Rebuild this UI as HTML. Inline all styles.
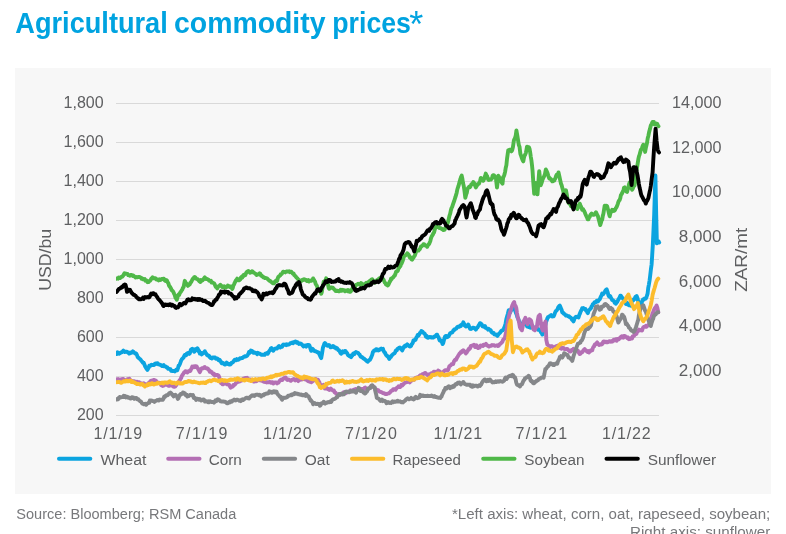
<!DOCTYPE html>
<html lang="en"><head><meta charset="utf-8"><title>Agricultural commodity prices</title>
<style>html,body{margin:0;padding:0;background:#fff;overflow:hidden}body{width:786px;height:534px}</style></head>
<body>
<svg width="786" height="534" viewBox="0 0 786 534" style="display:block">
<rect x="0" y="0" width="786" height="534" fill="#ffffff"/>
<rect x="15" y="68" width="756" height="426" fill="#f7f7f7"/>
<text font-family="'Liberation Sans', sans-serif" font-weight="700" font-size="29.5" fill="#00a3e0" y="33.1"><tspan x="15.3" textLength="152.5" lengthAdjust="spacingAndGlyphs">Agricultural</tspan> <tspan x="174" textLength="151.5" lengthAdjust="spacingAndGlyphs">commodity</tspan> <tspan x="332.3" textLength="78.6" lengthAdjust="spacingAndGlyphs">prices</tspan><tspan x="409.2" y="37.3" font-weight="400" font-size="36">*</tspan></text>
<line x1="116" y1="415.5" x2="659" y2="415.5" stroke="#d9d9d9" stroke-width="1"/>
<line x1="116" y1="376.5" x2="659" y2="376.5" stroke="#d9d9d9" stroke-width="1"/>
<line x1="116" y1="337.5" x2="659" y2="337.5" stroke="#d9d9d9" stroke-width="1"/>
<line x1="116" y1="298.5" x2="659" y2="298.5" stroke="#d9d9d9" stroke-width="1"/>
<line x1="116" y1="259.5" x2="659" y2="259.5" stroke="#d9d9d9" stroke-width="1"/>
<line x1="116" y1="220.5" x2="659" y2="220.5" stroke="#d9d9d9" stroke-width="1"/>
<line x1="116" y1="181.5" x2="659" y2="181.5" stroke="#d9d9d9" stroke-width="1"/>
<line x1="116" y1="142.5" x2="659" y2="142.5" stroke="#d9d9d9" stroke-width="1"/>
<line x1="116" y1="103.5" x2="659" y2="103.5" stroke="#d9d9d9" stroke-width="1"/>
<g font-family="'Liberation Sans', sans-serif" font-size="16" fill="#5e5f61">
<text x="103.6" y="419.9" text-anchor="end">200</text>
<text x="103.6" y="380.9" text-anchor="end">400</text>
<text x="103.6" y="341.9" text-anchor="end">600</text>
<text x="103.6" y="302.9" text-anchor="end">800</text>
<text x="103.6" y="263.9" text-anchor="end">1,000</text>
<text x="103.6" y="224.9" text-anchor="end">1,200</text>
<text x="103.6" y="185.9" text-anchor="end">1,400</text>
<text x="103.6" y="146.9" text-anchor="end">1,600</text>
<text x="103.6" y="107.9" text-anchor="end">1,800</text>
<text x="678.8" y="376.0" textLength="42.6" lengthAdjust="spacingAndGlyphs">2,000</text>
<text x="678.8" y="331.3" textLength="42.6" lengthAdjust="spacingAndGlyphs">4,000</text>
<text x="678.8" y="286.6" textLength="42.6" lengthAdjust="spacingAndGlyphs">6,000</text>
<text x="678.8" y="241.9" textLength="42.6" lengthAdjust="spacingAndGlyphs">8,000</text>
<text x="672.0" y="197.2" textLength="49.4" lengthAdjust="spacingAndGlyphs">10,000</text>
<text x="672.0" y="152.5" textLength="49.4" lengthAdjust="spacingAndGlyphs">12,000</text>
<text x="672.0" y="107.8" textLength="49.4" lengthAdjust="spacingAndGlyphs">14,000</text>
<text x="93.6" y="439" textLength="48.6" lengthAdjust="spacing">1/1/19</text>
<text x="175.7" y="439" textLength="51.7" lengthAdjust="spacing">7/1/19</text>
<text x="263.1" y="439" textLength="48.6" lengthAdjust="spacing">1/1/20</text>
<text x="345.1" y="439" textLength="51.7" lengthAdjust="spacing">7/1/20</text>
<text x="433.6" y="439" textLength="48.6" lengthAdjust="spacing">1/1/21</text>
<text x="515.5" y="439" textLength="51.7" lengthAdjust="spacing">7/1/21</text>
<text x="602.1" y="439" textLength="48.6" lengthAdjust="spacing">1/1/22</text>
<text transform="translate(51.2,259.8) rotate(-90)" text-anchor="middle" textLength="62" lengthAdjust="spacingAndGlyphs">USD/bu</text>
<text transform="translate(747.3,259.8) rotate(-90)" text-anchor="middle" textLength="64" lengthAdjust="spacingAndGlyphs">ZAR/mt</text>
</g>
<clipPath id="c"><rect x="116" y="90" width="547" height="330"/></clipPath>
<g clip-path="url(#c)" fill="none" stroke-linejoin="round" stroke-linecap="round">
<path d="M116.7 354.1 L117.5 352.2 L118.2 352.9 L119.0 353.7 L119.7 353.3 L120.5 352.8 L121.2 352.2 L121.9 352.3 L122.6 351.5 L123.4 350.6 L124.1 351.6 L124.8 352.0 L125.5 351.7 L126.2 351.6 L127.0 351.9 L127.7 352.4 L128.5 352.5 L129.2 353.6 L129.9 353.4 L130.7 352.5 L131.4 352.8 L132.2 352.4 L132.9 351.3 L133.7 352.2 L134.3 352.6 L134.9 353.4 L135.6 353.1 L136.2 353.5 L136.9 354.9 L137.7 357.1 L138.4 357.6 L139.2 358.5 L139.9 359.0 L140.7 359.7 L141.4 360.8 L142.2 361.6 L142.9 362.8 L143.7 362.7 L144.4 364.5 L145.2 366.5 L145.9 367.6 L146.7 369.0 L147.4 370.0 L148.0 368.8 L148.7 367.6 L149.3 365.7 L149.9 365.5 L150.6 365.7 L151.4 364.7 L152.1 365.0 L152.9 364.9 L153.6 365.1 L154.3 364.8 L154.9 363.7 L155.5 364.2 L156.1 363.5 L156.9 363.3 L157.6 363.2 L158.4 364.3 L159.1 364.5 L159.9 364.6 L160.6 365.0 L161.4 365.5 L162.1 366.1 L162.9 365.5 L163.6 365.1 L164.4 366.4 L165.1 366.4 L165.9 366.7 L166.6 367.4 L167.4 367.5 L168.1 368.7 L168.9 368.8 L169.6 369.0 L170.4 369.1 L171.1 370.8 L171.8 371.0 L172.6 371.0 L173.3 370.9 L174.1 370.9 L174.8 371.4 L175.5 370.6 L176.1 369.8 L176.7 369.5 L177.3 370.2 L178.0 368.2 L178.6 365.7 L179.2 365.5 L179.8 364.2 L180.5 362.4 L181.1 360.7 L181.7 359.5 L182.3 358.7 L182.9 358.2 L183.6 357.4 L184.2 356.0 L184.8 355.0 L185.4 354.9 L186.1 355.2 L186.7 353.7 L187.3 353.5 L187.9 352.9 L188.6 353.3 L189.2 353.9 L189.8 353.5 L190.4 351.4 L191.0 349.6 L191.7 349.3 L192.3 348.7 L192.9 349.4 L193.5 350.4 L194.2 351.8 L194.8 351.3 L195.4 349.2 L196.0 349.3 L196.7 348.7 L197.3 348.2 L197.9 349.1 L198.5 351.3 L199.2 351.0 L199.8 353.5 L200.4 353.1 L201.0 352.7 L201.6 354.4 L202.3 353.7 L202.9 353.4 L203.5 352.8 L204.1 352.3 L204.8 351.2 L205.4 352.5 L206.0 353.3 L206.6 354.3 L207.3 355.2 L207.9 355.6 L208.5 355.4 L209.1 356.0 L209.8 357.2 L210.5 358.0 L211.2 357.8 L212.0 358.5 L212.7 357.4 L213.5 357.6 L214.2 357.5 L215.0 357.4 L215.7 358.7 L216.5 358.5 L217.2 358.4 L218.0 359.6 L218.7 360.2 L219.5 359.7 L220.2 360.6 L221.0 362.1 L221.7 363.3 L222.5 362.7 L223.2 363.0 L224.0 363.9 L224.7 364.5 L225.3 364.6 L226.0 363.4 L226.6 362.6 L227.2 363.0 L227.8 364.1 L228.5 363.8 L229.1 364.6 L229.7 364.6 L230.3 364.4 L230.9 363.9 L231.6 362.7 L232.2 362.7 L232.8 362.3 L233.4 361.7 L234.1 360.4 L234.7 359.7 L235.4 360.0 L236.2 360.3 L236.9 359.1 L237.7 359.7 L238.4 359.7 L239.2 359.0 L239.9 358.3 L240.7 358.6 L241.4 358.0 L242.2 358.1 L242.9 357.6 L243.7 356.8 L244.4 356.5 L245.2 356.2 L245.9 356.5 L246.5 356.1 L247.2 355.6 L247.8 354.8 L248.4 353.5 L249.0 352.1 L249.7 352.8 L250.3 352.0 L250.9 350.6 L251.5 350.8 L252.1 351.1 L252.8 351.7 L253.4 352.8 L254.1 352.3 L254.9 352.8 L255.6 352.8 L256.4 353.2 L257.1 354.1 L257.9 352.9 L258.6 353.5 L259.4 353.4 L260.1 354.0 L260.9 354.3 L261.6 354.8 L262.4 354.7 L263.1 354.7 L263.9 354.8 L264.6 354.9 L265.4 353.7 L266.1 353.5 L266.9 353.1 L267.6 353.8 L268.4 352.6 L269.0 351.4 L269.6 350.6 L270.2 350.0 L270.9 348.3 L271.5 348.1 L272.1 348.9 L272.7 350.2 L273.3 350.7 L274.1 349.5 L274.8 348.6 L275.6 348.6 L276.3 348.3 L277.1 348.5 L277.7 347.6 L278.3 346.7 L279.0 346.1 L279.6 346.7 L280.2 347.4 L280.8 346.9 L281.4 346.4 L282.1 346.8 L282.7 345.3 L283.3 344.6 L283.9 345.0 L284.6 344.8 L285.3 344.4 L286.1 345.1 L286.8 344.3 L287.6 344.7 L288.3 344.6 L289.0 344.4 L289.8 343.9 L290.5 343.2 L291.3 342.9 L292.0 342.6 L292.8 343.2 L293.5 342.3 L294.3 342.6 L295.0 341.7 L295.8 341.5 L296.4 341.9 L297.0 342.8 L297.7 342.3 L298.3 342.9 L299.0 344.0 L299.8 343.7 L300.5 343.5 L301.3 343.9 L302.0 344.7 L302.7 345.5 L303.4 346.4 L304.1 345.5 L304.8 345.7 L305.5 345.9 L306.2 346.6 L306.9 345.2 L307.5 345.0 L308.1 344.9 L308.7 344.9 L309.4 345.4 L310.0 347.1 L310.6 349.1 L311.2 350.8 L312.0 349.7 L312.7 348.9 L313.5 349.9 L314.2 350.9 L315.0 351.2 L315.7 351.3 L316.5 351.7 L317.2 352.2 L318.0 352.3 L318.7 352.6 L319.3 354.2 L319.9 355.4 L320.6 357.0 L321.2 358.1 L322.1 353.2 L322.9 347.8 L323.6 346.0 L324.3 343.8 L324.9 343.1 L325.6 343.7 L326.2 344.5 L326.8 345.2 L327.4 345.7 L328.1 345.4 L328.7 345.0 L329.3 345.3 L329.9 346.5 L330.7 347.4 L331.4 347.2 L332.2 346.5 L332.9 345.9 L333.7 346.4 L334.4 347.5 L335.2 347.3 L335.9 348.4 L336.7 347.9 L337.4 348.6 L338.2 350.0 L338.9 350.1 L339.7 351.4 L340.4 352.9 L341.1 353.7 L341.9 352.3 L342.6 351.3 L343.4 352.5 L344.1 352.3 L344.9 350.9 L345.6 351.1 L346.4 352.5 L347.1 353.2 L347.9 354.9 L348.6 355.5 L349.3 356.1 L349.9 356.4 L350.5 356.6 L351.1 357.2 L351.7 355.3 L352.4 355.4 L353.0 354.0 L353.6 353.4 L354.4 354.0 L355.1 353.0 L355.9 352.1 L356.6 352.4 L357.4 352.6 L358.1 353.0 L358.9 354.0 L359.6 354.5 L360.4 356.3 L361.1 356.8 L361.8 356.9 L362.6 357.7 L363.3 358.4 L364.1 358.7 L364.8 359.4 L365.6 359.9 L366.3 360.7 L367.1 361.4 L367.8 361.8 L368.5 360.7 L369.1 360.2 L369.8 360.0 L370.4 359.0 L371.1 357.6 L371.7 356.1 L372.3 354.6 L372.9 352.0 L373.6 351.2 L374.2 350.4 L374.8 350.6 L375.4 350.2 L376.1 349.2 L376.7 349.4 L377.3 350.3 L377.9 349.7 L378.6 350.5 L379.2 350.1 L379.8 349.3 L380.4 349.0 L381.1 348.6 L381.7 349.2 L382.3 348.9 L382.9 348.8 L383.5 350.4 L384.2 352.1 L384.8 352.3 L385.4 353.8 L386.0 354.9 L386.7 355.5 L387.3 356.3 L388.0 356.2 L388.6 357.8 L389.3 358.9 L390.0 357.5 L390.8 357.1 L391.5 355.8 L392.3 354.9 L393.0 354.3 L393.8 353.6 L394.5 353.2 L395.3 351.9 L396.0 350.4 L396.8 350.4 L397.5 348.9 L398.3 348.6 L399.0 347.8 L399.8 347.5 L400.4 347.8 L401.0 348.2 L401.6 349.6 L402.2 350.4 L402.9 348.9 L403.5 347.6 L404.1 346.6 L404.7 345.9 L405.4 346.5 L406.0 345.8 L406.6 344.9 L407.2 344.3 L407.9 345.2 L408.5 345.5 L409.1 346.1 L409.7 346.6 L410.4 346.4 L411.0 346.0 L411.6 344.4 L412.2 343.8 L412.8 342.8 L413.5 340.4 L414.1 340.2 L414.7 340.2 L415.5 339.8 L416.2 337.8 L417.0 336.6 L417.7 335.0 L418.4 335.7 L419.2 334.4 L419.9 333.0 L420.7 332.6 L421.4 331.0 L422.2 331.4 L422.8 332.0 L423.4 332.9 L424.1 333.3 L424.7 333.8 L425.3 334.9 L425.9 336.5 L426.6 335.8 L427.2 337.5 L427.9 337.8 L428.7 337.1 L429.4 337.0 L430.2 337.4 L430.9 337.0 L431.7 337.6 L432.4 337.5 L433.2 337.5 L433.9 336.8 L434.7 336.7 L435.3 336.0 L435.9 335.7 L436.5 334.8 L437.2 334.8 L437.8 336.7 L438.4 336.9 L439.0 338.7 L439.6 340.4 L440.4 340.1 L441.1 341.1 L441.9 342.2 L442.6 344.1 L443.3 342.9 L443.9 340.4 L444.5 338.1 L445.1 336.4 L445.8 336.0 L446.4 336.0 L447.1 337.2 L447.7 337.0 L448.4 336.5 L449.0 335.5 L449.6 334.3 L450.2 333.2 L450.9 332.9 L451.5 332.6 L452.1 332.6 L452.7 331.8 L453.4 330.3 L454.0 330.3 L454.6 329.1 L455.2 329.1 L455.9 328.7 L456.5 328.4 L457.1 327.3 L457.7 326.8 L458.4 326.9 L459.0 326.8 L459.6 326.6 L460.2 325.6 L460.9 326.0 L461.5 324.8 L462.1 324.3 L462.7 324.1 L463.3 322.3 L464.0 323.7 L464.6 325.5 L465.2 325.8 L465.8 326.5 L466.5 325.6 L467.1 325.9 L467.7 326.1 L468.3 324.6 L469.0 326.3 L469.6 327.9 L470.2 328.8 L470.8 329.0 L471.4 328.7 L472.1 328.5 L472.7 327.7 L473.3 327.9 L473.9 327.8 L474.6 328.0 L475.2 328.4 L475.8 329.6 L476.4 328.7 L477.1 327.7 L477.7 327.3 L478.3 326.0 L479.1 324.8 L480.0 323.2 L480.6 323.4 L481.2 324.0 L481.9 324.7 L482.5 326.2 L483.1 326.1 L483.7 326.9 L484.4 326.8 L485.0 326.0 L485.6 327.9 L486.2 327.9 L486.9 328.5 L487.5 328.8 L488.1 329.7 L488.7 328.9 L489.4 329.5 L490.0 329.8 L490.6 330.0 L491.2 331.6 L491.8 332.4 L492.5 332.9 L493.1 332.8 L493.7 333.1 L494.3 334.3 L495.0 334.5 L495.6 334.8 L496.2 334.5 L496.8 334.9 L497.5 335.9 L498.1 334.8 L498.7 333.9 L499.3 333.4 L499.9 333.0 L500.6 331.9 L501.2 330.9 L501.8 330.8 L502.4 330.1 L503.1 330.2 L503.7 329.0 L504.3 327.4 L504.9 326.0 L505.6 323.4 L506.3 319.2 L506.9 317.1 L507.8 314.0 L508.7 310.2 L509.3 311.4 L509.9 312.9 L510.7 311.2 L511.4 309.6 L512.2 307.8 L512.9 306.8 L513.7 307.3 L514.4 309.6 L515.2 310.7 L515.9 312.8 L516.7 314.8 L517.4 317.2 L518.2 318.6 L518.9 320.7 L519.7 322.0 L520.4 324.1 L521.1 325.8 L521.9 325.0 L522.6 324.4 L523.4 323.3 L524.1 324.1 L524.9 323.3 L525.6 323.6 L526.4 324.0 L527.1 326.5 L527.9 325.7 L528.6 326.9 L529.4 326.0 L530.1 327.6 L530.9 327.7 L531.6 327.1 L532.4 327.0 L533.1 327.4 L533.9 328.1 L534.6 327.5 L535.4 328.2 L536.1 327.4 L536.9 328.7 L537.6 328.6 L538.4 329.8 L539.1 329.8 L539.9 329.6 L540.5 331.4 L541.1 332.5 L541.7 333.0 L542.3 334.6 L543.0 332.3 L543.6 331.1 L544.2 329.4 L544.8 327.0 L545.5 324.5 L546.1 321.6 L546.7 320.6 L547.3 318.4 L548.0 317.1 L548.6 316.9 L549.2 316.4 L549.8 316.0 L550.4 315.6 L551.1 315.1 L551.7 316.0 L552.3 316.5 L552.9 315.5 L553.6 316.3 L554.2 315.1 L554.8 313.3 L555.4 311.9 L556.1 310.8 L556.8 310.2 L557.6 309.0 L558.3 307.1 L559.1 306.1 L559.8 305.6 L560.4 306.9 L561.0 308.4 L561.7 310.1 L562.3 312.5 L563.0 312.4 L563.8 313.7 L564.5 314.0 L565.3 314.8 L566.0 315.6 L566.8 315.5 L567.5 315.9 L568.3 316.4 L569.0 316.2 L569.8 317.3 L570.5 317.4 L571.3 318.3 L572.0 319.8 L572.8 320.4 L573.5 321.4 L574.1 319.8 L574.8 317.9 L575.4 317.2 L576.0 316.7 L576.6 317.1 L577.3 316.8 L577.9 316.8 L578.5 317.5 L579.2 315.1 L580.0 313.4 L580.7 311.4 L581.5 310.1 L582.2 308.3 L582.9 308.9 L583.5 308.0 L584.1 308.7 L584.7 308.9 L585.4 308.9 L586.0 310.6 L586.6 310.6 L587.2 312.3 L587.9 313.1 L588.5 310.8 L589.1 310.2 L589.7 309.6 L590.4 308.7 L591.0 308.2 L591.6 306.4 L592.2 306.0 L592.8 304.2 L593.5 304.0 L594.1 302.8 L594.7 302.2 L595.4 302.0 L596.0 302.2 L596.7 300.9 L597.3 301.6 L598.0 301.4 L598.6 300.1 L599.2 299.9 L599.9 299.0 L600.7 296.9 L601.4 295.8 L602.2 293.5 L602.8 293.7 L603.4 294.0 L604.1 292.8 L604.7 292.0 L605.4 290.7 L606.0 289.8 L606.7 289.3 L607.6 292.0 L608.4 295.3 L609.1 296.5 L609.7 295.7 L610.3 296.2 L610.9 297.9 L611.5 298.7 L612.2 299.9 L612.8 300.2 L613.4 300.8 L614.0 300.9 L614.7 302.7 L615.3 302.4 L615.9 303.7 L616.5 302.3 L617.2 302.1 L617.8 300.7 L618.4 299.4 L619.0 298.4 L619.6 297.4 L620.3 295.7 L620.9 295.7 L621.5 296.7 L622.1 297.9 L622.8 298.3 L623.4 299.4 L624.0 299.8 L624.6 301.5 L625.3 302.1 L625.9 304.0 L626.5 303.3 L627.1 302.9 L627.8 304.6 L628.4 304.1 L629.0 305.3 L629.6 304.3 L630.2 305.4 L630.9 305.7 L631.7 302.1 L632.6 300.0 L633.3 300.3 L633.9 299.2 L634.6 299.1 L635.3 297.0 L635.9 296.5 L636.6 296.0 L637.5 298.3 L638.4 302.0 L639.0 302.6 L639.6 303.6 L640.2 304.4 L640.9 305.6 L641.5 303.6 L642.1 301.2 L642.7 299.8 L643.3 299.2 L644.0 299.5 L644.6 298.4 L645.2 298.4 L645.8 298.6 L646.7 296.4 L647.6 293.7 L648.2 288.1 L648.9 284.5 L649.6 280.2 L650.2 275.5 L650.9 269.4 L651.6 264.5 L652.2 255.2 L652.8 245.2 L653.5 229.8 L654.2 214.3 L654.8 195.1 L655.4 175.5 L656.2 214.8 L656.9 243.4 L657.5 242.3 L658.0 242.1 L658.6 241.3 L659.2 242.5" stroke="#0ba4e0" stroke-width="3.9"/>
<path d="M116.7 379.3 L117.5 379.9 L118.2 379.0 L119.0 379.8 L119.7 380.2 L120.5 379.8 L121.2 379.2 L122.0 379.6 L122.7 378.9 L123.5 379.2 L124.2 380.0 L125.0 380.4 L125.7 380.2 L126.5 379.9 L127.2 379.3 L128.0 379.4 L128.7 379.1 L129.4 378.7 L130.2 380.2 L130.9 380.7 L131.7 380.9 L132.4 381.2 L133.2 381.1 L133.9 381.1 L134.7 381.3 L135.4 381.9 L136.2 382.6 L136.9 381.8 L137.7 381.9 L138.4 382.8 L139.2 382.4 L139.9 384.2 L140.7 383.0 L141.4 383.5 L142.2 384.0 L142.9 383.6 L143.7 383.2 L144.4 384.1 L145.2 383.9 L145.9 384.3 L146.7 384.4 L147.4 385.3 L148.2 384.0 L148.9 382.8 L149.7 382.4 L150.4 381.1 L151.2 380.6 L151.8 380.6 L152.4 380.7 L153.1 380.1 L153.7 380.0 L154.4 379.9 L155.1 380.5 L155.9 380.6 L156.6 382.0 L157.4 382.5 L158.1 382.6 L158.9 382.6 L159.6 383.1 L160.4 383.0 L161.1 385.2 L161.9 385.5 L162.6 386.0 L163.4 385.7 L164.1 385.1 L164.9 384.1 L165.6 384.6 L166.4 384.9 L167.1 384.9 L167.9 385.3 L168.6 385.7 L169.3 385.8 L170.1 385.0 L170.8 385.0 L171.6 385.4 L172.3 385.1 L173.1 386.5 L173.8 386.8 L174.6 386.7 L175.3 386.4 L176.0 385.4 L176.6 384.7 L177.2 383.4 L177.8 382.7 L178.5 382.1 L179.2 381.1 L179.8 380.1 L180.5 379.1 L181.1 378.1 L181.7 376.2 L182.3 375.2 L182.9 374.3 L183.6 373.3 L184.2 372.3 L184.8 372.1 L185.4 371.2 L186.1 371.4 L186.7 371.5 L187.3 372.5 L187.9 371.7 L188.6 371.4 L189.2 370.9 L189.8 370.6 L190.4 370.9 L191.0 369.4 L191.7 368.0 L192.3 366.6 L192.9 366.8 L193.5 367.3 L194.2 366.4 L194.8 367.1 L195.4 366.4 L196.0 366.1 L196.7 366.5 L197.3 367.7 L197.9 368.4 L198.5 369.6 L199.2 371.0 L199.8 372.2 L200.4 371.0 L201.0 368.9 L201.6 368.4 L202.3 368.2 L202.9 367.9 L203.5 368.2 L204.1 367.4 L204.8 367.1 L205.4 368.0 L206.0 368.1 L206.6 368.6 L207.3 368.3 L207.9 368.7 L208.5 369.8 L209.1 369.9 L209.8 371.7 L210.4 371.2 L211.0 371.8 L211.6 371.9 L212.2 373.0 L212.9 373.9 L213.5 374.2 L214.1 373.8 L214.7 375.4 L215.5 375.0 L216.2 375.2 L217.0 374.9 L217.7 375.2 L218.4 375.4 L219.1 376.9 L219.7 378.9 L220.3 381.2 L221.0 383.0 L221.7 382.6 L222.5 384.3 L223.2 384.2 L224.0 383.3 L224.7 383.6 L225.5 383.0 L226.2 383.3 L227.0 384.3 L227.7 384.5 L228.4 384.4 L229.2 384.9 L229.9 386.4 L230.7 387.6 L231.4 386.8 L232.2 386.8 L232.8 386.7 L233.4 385.0 L234.1 385.1 L234.7 384.7 L235.3 384.1 L235.9 383.0 L236.6 381.9 L237.2 382.2 L237.8 381.9 L238.4 381.2 L239.1 380.9 L239.7 381.4 L240.4 380.5 L241.2 380.7 L241.9 380.4 L242.7 379.6 L243.4 378.7 L244.2 378.4 L244.9 378.1 L245.7 378.0 L246.4 378.8 L247.2 377.9 L247.9 378.6 L248.7 379.8 L249.4 380.0 L250.2 379.4 L250.9 379.9 L251.6 379.9 L252.4 380.0 L253.1 379.9 L253.9 381.6 L254.6 381.3 L255.4 380.8 L256.1 381.3 L256.9 380.9 L257.6 379.8 L258.4 379.3 L259.1 379.7 L259.9 380.3 L260.6 380.5 L261.4 380.1 L262.1 380.5 L262.9 381.3 L263.6 381.5 L264.4 381.9 L265.1 382.0 L265.9 382.0 L266.6 382.5 L267.4 382.2 L268.1 382.4 L268.9 382.3 L269.6 381.8 L270.3 382.0 L271.1 382.7 L271.8 382.3 L272.6 382.2 L273.3 383.5 L274.1 382.8 L274.8 382.4 L275.6 382.5 L276.3 382.5 L277.1 383.4 L277.7 382.8 L278.3 382.8 L279.0 381.8 L279.6 380.8 L280.3 380.3 L281.1 379.5 L281.8 380.1 L282.6 379.8 L283.3 378.6 L284.1 378.4 L284.8 377.7 L285.6 377.4 L286.3 378.9 L287.1 379.9 L287.8 379.6 L288.6 379.5 L289.3 379.9 L290.1 380.3 L290.8 380.8 L291.5 379.9 L292.3 379.8 L293.0 379.3 L293.8 379.0 L294.5 379.3 L295.3 380.4 L296.0 379.9 L296.8 379.1 L297.5 379.5 L298.3 381.1 L299.0 379.3 L299.8 380.0 L300.5 378.8 L301.3 379.3 L302.0 379.6 L302.7 379.0 L303.4 378.7 L304.1 379.2 L304.8 378.8 L305.4 378.3 L306.1 379.5 L306.8 380.3 L307.5 380.5 L308.2 381.2 L309.0 381.2 L309.7 381.8 L310.5 381.5 L311.2 382.3 L312.0 381.5 L312.7 381.3 L313.5 380.7 L314.2 380.0 L315.0 379.9 L315.7 379.0 L316.5 379.4 L317.2 380.2 L318.0 379.7 L318.6 381.3 L319.3 382.1 L319.9 384.0 L320.6 385.3 L321.2 385.4 L321.9 385.7 L322.7 385.3 L323.4 384.9 L324.2 386.4 L324.9 388.6 L325.7 388.3 L326.4 387.7 L327.2 388.7 L327.9 389.2 L328.7 389.0 L329.4 390.0 L330.2 389.7 L330.9 388.6 L331.7 389.6 L332.4 390.1 L333.2 390.8 L333.9 390.6 L334.7 392.3 L335.4 392.5 L336.2 393.8 L336.9 394.2 L337.7 394.2 L338.4 394.3 L339.2 394.4 L339.9 394.5 L340.6 394.4 L341.4 394.1 L342.1 393.9 L342.9 393.3 L343.6 392.3 L344.4 392.6 L345.1 392.8 L345.9 393.2 L346.6 392.7 L347.4 392.1 L348.1 391.8 L348.9 391.9 L349.6 391.5 L350.4 390.4 L351.1 391.4 L351.9 390.4 L352.6 390.7 L353.4 389.9 L354.1 390.5 L354.9 389.5 L355.6 388.9 L356.4 389.4 L357.1 390.0 L357.9 390.0 L358.6 389.9 L359.3 389.5 L360.1 389.2 L360.8 389.1 L361.6 389.0 L362.3 389.3 L363.1 388.7 L363.8 389.0 L364.6 387.9 L365.3 387.6 L366.1 388.6 L366.8 389.1 L367.6 389.3 L368.3 389.0 L369.1 388.1 L369.8 387.9 L370.6 386.6 L371.3 385.8 L372.1 386.3 L372.8 386.5 L373.6 386.4 L374.2 387.4 L374.8 388.5 L375.4 390.3 L376.1 389.7 L376.8 389.8 L377.6 390.2 L378.3 390.3 L379.1 391.5 L379.8 391.8 L380.5 391.8 L381.3 392.1 L382.0 392.3 L382.8 393.1 L383.5 393.2 L384.3 393.2 L385.0 393.8 L385.8 394.1 L386.5 394.0 L387.3 393.8 L388.0 393.4 L388.8 393.4 L389.5 392.8 L390.3 392.1 L391.0 391.0 L391.8 390.7 L392.5 390.4 L393.3 389.1 L394.0 389.3 L394.8 389.3 L395.5 389.8 L396.3 388.7 L397.0 387.7 L397.8 387.3 L398.5 386.3 L399.2 386.8 L400.0 387.1 L400.7 386.3 L401.5 384.7 L402.2 385.5 L403.0 384.7 L403.7 383.9 L404.5 383.0 L405.2 382.6 L406.0 382.4 L406.7 382.2 L407.5 381.8 L408.2 381.6 L409.0 381.7 L409.7 382.4 L410.5 381.2 L411.2 380.9 L412.0 379.8 L412.7 380.0 L413.5 379.7 L414.2 379.7 L415.0 378.3 L415.7 377.8 L416.5 377.8 L417.2 377.2 L418.0 377.6 L418.7 377.1 L419.5 376.1 L420.2 375.3 L420.9 376.1 L421.7 375.5 L422.4 374.1 L423.2 374.2 L423.9 373.6 L424.7 373.1 L425.4 372.9 L426.2 374.0 L426.9 374.5 L427.7 375.1 L428.4 374.5 L429.2 374.9 L429.9 374.1 L430.7 373.9 L431.4 373.1 L432.2 373.1 L432.9 373.0 L433.7 371.9 L434.4 371.6 L435.2 372.3 L435.9 371.7 L436.7 372.3 L437.4 372.2 L438.2 370.6 L438.9 371.0 L439.6 371.4 L440.4 372.5 L441.1 372.1 L441.9 372.6 L442.6 372.6 L443.4 371.8 L444.1 371.2 L444.9 370.3 L445.6 370.1 L446.4 370.3 L447.1 370.5 L447.9 370.3 L448.6 368.5 L449.4 366.1 L450.1 365.7 L450.9 365.1 L451.6 364.2 L452.4 364.0 L453.1 364.1 L453.9 361.6 L454.6 360.4 L455.4 359.5 L456.1 359.7 L456.9 357.9 L457.6 356.8 L458.4 355.4 L459.0 354.4 L459.6 353.4 L460.2 353.3 L460.9 352.1 L461.5 352.3 L462.1 351.0 L462.7 351.0 L463.3 350.2 L464.0 350.9 L464.6 351.6 L465.2 352.6 L465.8 353.4 L466.5 352.7 L467.1 351.7 L467.7 350.9 L468.3 349.6 L469.0 348.6 L469.6 348.9 L470.2 348.1 L470.8 345.9 L471.4 345.8 L472.1 345.8 L472.7 345.3 L473.3 345.3 L473.9 344.8 L474.6 345.2 L475.2 347.1 L475.8 346.5 L476.6 345.4 L477.3 347.3 L478.1 348.1 L478.8 347.6 L479.6 347.6 L480.0 346.2 L480.7 345.4 L481.5 345.8 L482.2 345.5 L483.0 345.9 L483.7 344.7 L484.5 345.0 L485.2 344.6 L486.0 343.8 L486.7 345.1 L487.5 345.7 L488.2 345.8 L489.0 346.6 L489.7 346.1 L490.5 345.9 L491.2 345.8 L492.0 345.0 L492.7 345.3 L493.5 345.2 L494.2 345.3 L495.0 345.8 L495.7 345.6 L496.5 345.6 L497.2 345.3 L498.0 346.0 L498.7 345.7 L499.4 344.5 L500.2 343.9 L500.9 343.4 L501.7 342.3 L502.4 341.8 L503.1 339.8 L503.7 339.2 L504.3 338.8 L504.9 337.7 L505.6 334.5 L506.3 331.4 L506.9 328.0 L507.8 321.9 L508.7 317.2 L509.6 313.5 L510.4 311.2 L511.1 309.1 L511.8 307.0 L512.4 305.2 L513.3 303.2 L514.2 302.1 L514.8 305.4 L515.5 305.8 L516.2 307.6 L517.0 313.1 L517.9 318.0 L518.6 320.4 L519.2 323.1 L519.9 327.1 L520.6 328.6 L521.2 328.4 L521.9 330.3 L522.8 326.0 L523.6 321.3 L524.5 319.9 L525.4 317.8 L526.1 320.1 L526.7 322.3 L527.4 324.2 L528.0 322.6 L528.7 321.8 L529.4 319.2 L530.2 319.8 L531.1 320.6 L532.0 324.6 L532.9 327.5 L533.5 329.5 L534.2 329.6 L534.9 330.3 L535.5 327.8 L536.2 326.9 L536.9 326.8 L537.7 320.8 L538.6 316.0 L539.2 316.0 L539.9 314.9 L540.6 320.4 L541.4 326.7 L542.1 328.8 L542.8 330.6 L543.6 326.6 L544.3 323.1 L545.0 323.1 L545.6 321.5 L546.3 339.9 L547.3 344.5 L548.0 345.1 L548.6 345.5 L549.2 346.3 L549.8 347.0 L550.6 346.3 L551.3 346.3 L552.1 346.1 L552.8 347.0 L553.6 347.6 L554.3 346.9 L555.1 346.9 L555.8 346.3 L556.6 346.0 L557.3 346.0 L557.9 345.6 L558.6 346.1 L559.2 346.2 L559.8 348.1 L560.5 347.8 L561.3 348.7 L562.0 348.0 L562.8 348.0 L563.5 348.0 L564.3 349.1 L565.0 349.1 L565.8 349.1 L566.5 349.0 L567.3 348.9 L567.9 349.8 L568.5 350.4 L569.2 350.5 L569.8 351.6 L570.5 351.5 L571.3 350.7 L572.0 349.7 L572.8 349.9 L573.5 348.8 L574.3 350.4 L575.0 350.9 L575.8 350.5 L576.5 350.4 L577.3 350.8 L577.9 350.7 L578.5 352.2 L579.1 353.1 L579.8 354.1 L580.4 353.8 L581.0 353.1 L581.6 352.1 L582.2 352.3 L582.9 351.4 L583.5 350.2 L584.1 349.8 L584.7 349.1 L585.4 350.0 L586.0 350.4 L586.6 351.0 L587.2 351.8 L587.9 352.1 L588.5 351.1 L589.1 352.4 L589.7 351.3 L590.4 351.1 L591.0 350.2 L591.6 350.4 L592.2 350.4 L592.8 348.2 L593.5 346.7 L594.1 346.4 L594.7 344.6 L595.3 344.2 L596.0 344.2 L596.6 343.1 L597.2 342.4 L597.8 343.8 L598.5 344.1 L599.1 345.1 L599.7 344.8 L600.3 344.3 L600.9 344.5 L601.6 344.6 L602.2 344.1 L602.8 342.5 L603.4 341.6 L604.1 341.4 L604.7 342.2 L605.4 341.8 L606.2 341.6 L606.9 342.4 L607.7 342.3 L608.4 342.0 L609.2 341.1 L609.9 341.1 L610.7 341.7 L611.4 341.3 L612.2 341.6 L612.9 340.8 L613.7 339.8 L614.4 340.4 L615.2 339.4 L615.9 339.3 L616.7 340.7 L617.4 339.0 L618.2 339.1 L618.9 339.3 L619.6 338.2 L620.3 337.6 L620.9 336.8 L621.5 337.5 L622.1 336.4 L622.8 337.6 L623.4 337.7 L624.0 335.9 L624.6 335.9 L625.3 336.3 L625.9 337.1 L626.5 337.1 L627.1 338.0 L627.8 337.3 L628.4 338.7 L629.0 339.2 L629.6 339.1 L630.3 338.8 L630.9 338.1 L631.5 338.4 L632.1 338.5 L632.7 336.4 L633.4 336.1 L634.0 335.9 L634.6 334.6 L635.2 334.3 L635.9 334.3 L636.5 333.8 L637.1 331.3 L637.7 331.6 L638.4 330.7 L639.0 329.6 L639.6 330.1 L640.2 330.4 L640.8 330.2 L641.5 329.9 L642.1 330.4 L642.7 328.5 L643.3 327.2 L644.0 326.9 L644.6 326.8 L645.2 326.4 L645.8 325.9 L646.5 326.8 L647.1 325.8 L647.7 325.7 L648.4 324.9 L649.1 324.3 L650.0 322.0 L650.8 320.0 L651.7 316.6 L652.6 312.9 L653.2 312.0 L653.9 310.1 L654.6 308.5 L655.2 307.8 L655.9 306.7 L656.6 305.5 L657.4 307.9 L658.3 312.3" stroke="#b46fb4" stroke-width="3.9"/>
<path d="M116.7 399.5 L117.4 398.8 L118.0 399.3 L118.7 398.7 L119.3 397.2 L120.0 396.9 L120.7 397.3 L121.5 397.2 L122.2 397.0 L123.0 397.0 L123.7 395.8 L124.5 396.9 L125.2 396.1 L126.0 397.4 L126.7 396.7 L127.5 396.9 L128.2 397.8 L129.0 397.5 L129.7 398.1 L130.5 398.6 L131.2 398.4 L131.9 397.2 L132.7 397.5 L133.4 397.5 L134.2 398.9 L134.9 398.4 L135.7 397.9 L136.4 397.9 L137.2 399.2 L137.9 398.9 L138.7 399.8 L139.4 400.5 L140.2 401.2 L140.9 401.5 L141.7 402.9 L142.4 403.6 L143.2 403.9 L143.9 404.3 L144.7 404.2 L145.4 403.7 L146.2 404.7 L146.9 403.8 L147.7 403.3 L148.4 402.8 L149.2 402.9 L149.9 400.4 L150.6 400.9 L151.4 400.4 L152.1 400.8 L152.9 401.0 L153.6 401.1 L154.4 401.9 L155.1 401.2 L155.9 400.9 L156.6 400.5 L157.4 400.0 L158.1 400.3 L158.9 400.5 L159.6 399.5 L160.4 399.8 L161.1 399.7 L161.9 399.8 L162.6 399.9 L163.4 399.0 L164.1 396.8 L164.9 397.0 L165.6 395.9 L166.4 395.1 L167.1 395.2 L167.9 395.2 L168.6 393.9 L169.2 393.2 L169.8 393.1 L170.5 392.6 L171.1 393.0 L171.7 393.9 L172.3 394.8 L173.0 394.7 L173.6 396.4 L174.2 395.6 L174.8 395.6 L175.5 394.7 L176.1 395.4 L177.0 396.6 L177.8 398.9 L178.5 398.1 L179.1 396.3 L179.7 395.4 L180.3 394.3 L181.0 394.6 L181.6 393.6 L182.3 393.8 L182.9 392.5 L183.6 392.6 L184.2 393.6 L184.8 393.2 L185.4 394.9 L186.1 394.6 L186.7 394.6 L187.3 396.6 L187.9 396.0 L188.6 396.1 L189.3 395.6 L190.0 395.0 L190.8 394.8 L191.5 395.0 L192.3 395.5 L193.0 395.1 L193.8 397.9 L194.5 397.6 L195.3 398.1 L196.0 399.9 L196.8 398.7 L197.5 398.6 L198.3 399.5 L199.0 399.8 L199.8 399.0 L200.5 399.7 L201.3 400.5 L202.0 400.4 L202.8 399.7 L203.5 399.4 L204.3 400.0 L205.0 401.6 L205.8 401.6 L206.5 401.3 L207.3 401.4 L208.0 402.2 L208.8 401.2 L209.5 402.2 L210.3 401.3 L211.0 401.9 L211.7 402.0 L212.5 402.1 L213.2 401.9 L214.0 402.7 L214.7 401.6 L215.5 400.4 L216.2 401.2 L217.0 400.6 L217.7 399.3 L218.5 399.5 L219.2 400.0 L220.0 400.8 L220.7 401.4 L221.5 401.5 L222.2 401.4 L223.0 401.5 L223.7 401.4 L224.5 401.9 L225.2 401.6 L226.0 402.3 L226.7 403.0 L227.5 403.4 L228.2 402.9 L229.0 402.1 L229.7 402.4 L230.4 401.3 L231.2 401.8 L231.9 401.6 L232.7 400.5 L233.4 400.4 L234.2 399.6 L234.9 400.1 L235.7 400.4 L236.4 399.6 L237.2 399.8 L237.9 399.8 L238.7 400.3 L239.4 400.7 L240.2 400.5 L240.9 401.1 L241.7 399.5 L242.4 399.3 L243.2 399.9 L243.9 399.3 L244.7 398.8 L245.4 398.3 L246.2 397.6 L246.9 397.6 L247.7 397.8 L248.4 398.4 L249.1 398.5 L249.9 397.2 L250.6 396.7 L251.4 395.8 L252.1 395.3 L252.9 395.8 L253.6 395.3 L254.4 395.9 L255.1 395.1 L255.9 394.8 L256.6 394.8 L257.4 394.9 L258.1 394.6 L258.9 395.3 L259.6 394.7 L260.4 395.4 L261.1 396.5 L261.9 395.5 L262.6 395.0 L263.4 395.3 L264.1 394.3 L264.9 394.4 L265.6 393.8 L266.4 393.4 L267.1 393.4 L267.9 393.5 L268.6 393.2 L269.4 391.3 L270.1 392.1 L270.9 391.7 L271.5 392.8 L272.1 392.8 L272.7 392.5 L273.3 391.4 L274.0 391.3 L274.6 391.6 L275.2 392.4 L275.8 391.5 L276.5 391.6 L277.1 393.0 L277.7 394.2 L278.3 394.9 L279.1 395.7 L279.8 396.8 L280.6 396.7 L281.3 398.5 L282.1 399.8 L282.8 397.8 L283.6 397.8 L284.3 398.0 L285.1 397.7 L285.8 397.7 L286.6 397.4 L287.3 397.0 L288.1 395.7 L288.8 395.8 L289.6 395.5 L290.3 395.2 L291.0 394.8 L291.8 395.2 L292.5 394.3 L293.3 394.4 L294.0 394.3 L294.8 393.0 L295.5 393.7 L296.3 393.4 L297.0 393.9 L297.8 393.7 L298.5 394.4 L299.3 394.1 L300.0 394.6 L300.8 394.8 L301.4 394.5 L302.1 395.1 L302.8 395.4 L303.5 395.1 L304.1 394.9 L304.8 395.4 L305.5 395.9 L306.1 394.0 L306.8 395.1 L307.5 395.9 L308.1 396.0 L308.7 396.4 L309.4 398.4 L310.0 398.9 L310.6 400.6 L311.2 400.5 L311.8 401.5 L312.5 402.4 L313.2 404.3 L314.0 403.4 L314.7 402.9 L315.5 403.6 L316.2 404.1 L317.0 404.1 L317.7 403.7 L318.5 404.2 L319.2 404.0 L319.9 405.8 L320.7 405.0 L321.4 403.4 L322.2 403.1 L322.9 403.2 L323.7 401.8 L324.4 402.6 L325.2 403.6 L325.9 402.8 L326.7 402.9 L327.4 402.4 L328.2 402.0 L328.9 402.3 L329.7 402.1 L330.4 401.3 L331.2 401.9 L331.9 400.2 L332.7 399.6 L333.4 399.1 L334.2 399.1 L334.9 398.7 L335.7 398.3 L336.4 397.5 L337.2 397.2 L337.9 395.5 L338.6 395.5 L339.4 394.1 L340.1 394.9 L340.9 394.1 L341.6 393.5 L342.4 394.6 L343.1 394.4 L343.9 394.3 L344.6 392.9 L345.4 391.8 L346.1 392.0 L346.9 391.4 L347.6 392.0 L348.4 391.8 L349.1 392.3 L349.9 391.8 L350.6 391.0 L351.4 391.6 L352.1 391.2 L352.9 391.5 L353.6 390.8 L354.2 391.6 L354.9 391.2 L355.5 392.2 L356.1 392.7 L356.7 391.0 L357.4 390.5 L358.0 389.3 L358.6 387.8 L359.2 388.2 L359.9 389.7 L360.5 391.0 L361.1 390.8 L361.7 391.2 L362.3 391.0 L363.0 391.9 L363.6 392.5 L364.2 392.5 L364.8 393.6 L365.5 393.3 L366.1 392.3 L366.7 391.8 L367.3 391.0 L368.0 388.6 L368.6 388.4 L369.3 388.5 L370.1 387.8 L370.8 387.8 L371.6 385.7 L372.3 385.2 L372.9 386.5 L373.6 386.9 L374.2 387.2 L374.8 387.5 L375.5 391.9 L376.1 394.2 L376.8 397.9 L377.6 398.4 L378.3 398.4 L379.1 399.2 L379.8 400.2 L380.5 401.0 L381.3 400.4 L382.0 399.5 L382.8 401.1 L383.5 400.5 L384.3 400.9 L385.0 401.0 L385.8 401.7 L386.5 403.3 L387.3 402.5 L388.0 402.0 L388.8 402.7 L389.5 403.0 L390.3 402.7 L391.0 403.0 L391.8 402.3 L392.5 401.4 L393.3 402.3 L394.0 402.0 L394.8 401.5 L395.5 401.7 L396.3 401.6 L397.0 400.9 L397.8 400.8 L398.5 401.6 L399.2 401.5 L400.0 401.3 L400.7 401.8 L401.5 402.3 L402.2 401.9 L403.0 402.4 L403.7 401.7 L404.5 401.0 L405.2 400.6 L406.0 399.5 L406.7 398.8 L407.5 398.3 L408.2 398.6 L409.0 399.3 L409.7 398.7 L410.5 398.9 L411.2 397.9 L412.0 398.9 L412.7 398.9 L413.5 399.5 L414.2 399.2 L415.0 397.5 L415.7 396.8 L416.5 397.5 L417.2 398.2 L418.0 397.9 L418.7 397.8 L419.5 397.2 L420.2 394.8 L420.9 395.7 L421.7 396.1 L422.4 395.4 L423.2 395.4 L423.9 396.1 L424.7 395.9 L425.4 395.9 L426.2 396.0 L426.9 396.0 L427.7 395.7 L428.4 396.1 L429.2 396.1 L429.9 396.0 L430.7 396.1 L431.4 395.5 L432.2 396.0 L432.9 396.6 L433.7 396.7 L434.4 396.0 L435.2 397.0 L435.9 396.9 L436.7 397.2 L437.4 397.5 L438.2 397.7 L438.9 397.9 L439.6 397.5 L440.3 398.0 L440.9 397.1 L441.5 396.5 L442.1 394.8 L442.8 393.4 L443.4 392.3 L444.0 390.4 L444.6 390.1 L445.3 388.1 L445.9 388.7 L446.5 388.6 L447.1 387.3 L447.9 386.8 L448.6 386.3 L449.4 386.5 L450.1 388.2 L450.9 387.2 L451.6 386.8 L452.4 387.2 L453.1 386.0 L453.9 386.7 L454.6 385.7 L455.2 384.5 L455.9 383.9 L456.5 384.3 L457.1 383.9 L457.9 382.7 L458.6 382.6 L459.4 382.5 L460.1 383.8 L460.9 384.4 L461.5 383.6 L462.1 383.0 L462.7 383.1 L463.3 382.0 L464.1 383.1 L464.8 384.1 L465.6 384.2 L466.3 384.8 L467.1 384.8 L467.8 384.9 L468.6 384.6 L469.3 384.7 L470.1 384.6 L470.8 386.2 L471.6 386.3 L472.3 386.8 L473.1 385.4 L473.8 386.3 L474.6 385.9 L475.3 385.7 L476.1 385.6 L476.8 385.9 L477.6 386.6 L478.3 386.1 L479.1 385.3 L480.0 385.9 L480.6 384.9 L481.2 384.7 L481.9 382.8 L482.5 381.9 L483.1 380.9 L483.7 380.3 L484.4 379.6 L485.0 379.4 L485.6 380.3 L486.2 381.2 L486.9 381.2 L487.5 380.6 L488.1 379.8 L488.7 381.0 L489.4 380.2 L490.0 379.5 L490.6 380.4 L491.2 380.8 L491.8 381.6 L492.5 382.4 L493.1 382.0 L493.7 382.2 L494.3 382.2 L495.0 381.8 L495.7 381.3 L496.5 382.0 L497.2 381.7 L498.0 381.2 L498.7 381.7 L499.4 381.3 L500.2 381.0 L500.9 381.3 L501.7 381.5 L502.4 381.7 L503.1 381.3 L503.7 381.1 L504.3 380.4 L504.9 378.6 L505.6 377.5 L506.2 377.7 L506.8 378.9 L507.4 377.4 L508.1 376.8 L508.7 376.4 L509.3 376.1 L509.9 375.9 L510.6 375.7 L511.2 376.1 L511.8 375.2 L512.4 374.8 L513.0 375.0 L513.7 376.2 L514.3 377.5 L514.9 377.2 L515.6 379.1 L516.2 382.4 L516.9 384.5 L517.5 385.0 L518.2 384.9 L518.8 385.7 L519.4 386.0 L520.0 386.5 L520.6 385.2 L521.3 384.5 L521.9 384.4 L522.5 383.2 L523.1 381.5 L523.8 380.3 L524.4 379.8 L525.0 378.3 L525.6 378.3 L526.3 377.5 L526.9 377.4 L527.8 376.8 L528.6 375.8 L529.3 376.4 L529.9 377.9 L530.5 380.4 L531.1 381.2 L531.7 380.7 L532.4 381.5 L533.0 383.0 L533.6 383.4 L534.2 383.1 L534.9 382.4 L535.5 381.4 L536.1 381.5 L536.7 380.7 L537.4 380.5 L538.0 380.2 L538.6 379.2 L539.2 379.1 L539.9 378.5 L540.5 378.6 L541.1 377.6 L541.7 377.7 L542.3 377.2 L543.0 377.6 L543.6 377.8 L544.5 373.5 L545.3 369.1 L546.0 368.8 L546.7 367.8 L547.3 366.9 L548.0 366.4 L548.6 365.7 L549.2 364.8 L549.8 363.4 L550.5 363.3 L551.1 363.4 L551.7 364.2 L552.3 364.2 L552.9 364.9 L553.6 364.1 L554.2 364.9 L554.8 364.2 L555.4 363.9 L556.1 363.3 L556.7 363.7 L557.3 363.8 L557.9 361.5 L558.6 360.1 L559.2 359.2 L559.8 357.0 L560.4 357.2 L561.0 356.1 L561.7 356.5 L562.3 357.6 L562.9 356.5 L563.5 355.3 L564.2 353.2 L564.8 353.3 L565.4 354.3 L566.0 354.1 L566.7 354.8 L567.3 354.8 L567.9 355.8 L568.5 357.6 L569.2 357.6 L569.8 357.9 L570.4 358.6 L571.0 359.2 L571.6 359.7 L572.3 360.9 L572.9 358.5 L573.6 355.9 L574.3 353.9 L575.1 351.4 L576.0 349.2 L576.6 347.1 L577.3 345.3 L577.9 343.7 L578.5 343.8 L579.1 343.1 L579.8 342.9 L580.4 342.6 L581.0 340.8 L581.6 340.7 L582.2 339.7 L582.9 338.2 L583.5 336.2 L584.1 333.8 L584.7 332.0 L585.4 330.2 L586.0 329.1 L586.6 329.1 L587.2 328.9 L587.9 329.0 L588.5 328.9 L589.1 327.2 L589.7 327.3 L590.3 326.5 L591.0 325.5 L591.6 322.1 L592.2 318.8 L592.9 317.3 L593.5 314.3 L594.2 312.6 L595.1 310.1 L596.0 306.6 L596.8 307.5 L597.7 306.2 L598.4 307.4 L599.0 308.4 L599.7 309.8 L600.3 309.2 L600.9 309.1 L601.6 306.8 L602.2 306.8 L602.8 306.6 L603.4 306.4 L604.1 305.0 L604.7 304.3 L605.3 304.0 L605.9 305.1 L606.6 304.8 L607.2 306.0 L607.8 305.8 L608.4 307.0 L609.1 308.5 L609.7 309.0 L610.3 308.4 L610.9 307.9 L611.5 308.6 L612.2 308.8 L612.8 310.3 L613.4 311.6 L614.0 311.7 L614.7 312.4 L615.3 313.7 L616.0 314.9 L616.7 316.6 L617.5 319.4 L618.4 322.6 L619.3 321.0 L620.1 319.3 L620.8 318.8 L621.5 316.5 L622.1 314.7 L622.8 315.2 L623.5 316.5 L624.1 316.8 L625.0 319.9 L625.9 324.0 L626.5 323.3 L627.1 324.4 L627.8 325.5 L628.4 326.1 L629.0 327.7 L629.6 328.1 L630.2 328.7 L630.9 330.0 L631.5 330.7 L632.1 330.9 L632.7 331.0 L633.4 332.0 L634.0 331.4 L634.6 330.7 L635.2 329.4 L635.9 327.4 L636.7 324.8 L637.6 321.7 L638.3 319.6 L638.9 315.1 L639.6 311.9 L640.3 309.7 L640.9 307.6 L641.6 306.1 L642.5 305.9 L643.3 305.2 L644.2 307.8 L645.1 310.7 L645.8 311.7 L646.4 313.6 L647.1 315.7 L647.7 317.9 L648.4 319.9 L649.1 322.0 L650.0 324.6 L650.8 326.0 L651.7 322.5 L652.6 319.9 L653.2 318.8 L653.9 315.9 L654.6 315.3 L655.2 314.7 L655.9 314.2 L656.6 312.8 L657.4 312.3 L658.3 312.3" stroke="#85878a" stroke-width="3.9"/>
<path d="M116.7 382.2 L117.5 382.1 L118.2 382.0 L119.0 382.0 L119.7 382.4 L120.5 382.3 L121.2 382.8 L122.0 382.3 L122.7 381.9 L123.5 381.4 L124.2 381.1 L125.0 381.6 L125.7 381.1 L126.4 380.6 L127.1 381.2 L127.8 380.9 L128.5 381.3 L129.2 380.7 L129.9 380.9 L130.7 380.7 L131.4 382.0 L132.1 381.3 L132.8 381.9 L133.5 382.3 L134.2 382.3 L134.9 382.5 L135.7 383.4 L136.4 383.8 L137.1 384.1 L137.8 383.7 L138.5 384.1 L139.2 384.1 L139.9 384.1 L140.6 384.5 L141.4 384.0 L142.1 384.4 L142.8 384.2 L143.5 385.4 L144.2 385.6 L144.9 386.5 L145.6 385.4 L146.3 385.5 L147.0 385.2 L147.8 384.4 L148.5 385.0 L149.2 383.7 L149.9 384.3 L150.6 384.5 L151.3 383.7 L152.0 383.2 L152.8 383.7 L153.5 384.5 L154.2 384.5 L154.9 383.9 L155.6 383.7 L156.3 383.6 L157.0 383.7 L157.7 382.8 L158.5 383.3 L159.2 383.5 L159.9 383.3 L160.6 383.2 L161.3 383.0 L162.0 382.6 L162.7 383.1 L163.4 383.5 L164.1 382.4 L164.9 382.6 L165.6 382.5 L166.3 382.8 L167.0 382.6 L167.7 382.8 L168.4 382.2 L169.1 381.6 L169.8 381.3 L170.6 382.2 L171.3 382.6 L172.0 383.1 L172.7 382.6 L173.4 383.0 L174.1 382.7 L174.8 382.9 L175.6 383.1 L176.3 383.9 L177.0 382.8 L177.7 382.4 L178.4 382.5 L179.1 382.7 L179.8 383.6 L180.5 383.6 L181.3 383.3 L182.0 383.6 L182.7 383.5 L183.4 382.8 L184.1 382.6 L184.8 381.9 L185.5 382.0 L186.2 382.1 L186.9 381.9 L187.7 381.6 L188.4 380.9 L189.1 381.2 L189.8 381.1 L190.5 381.7 L191.2 381.5 L191.9 382.0 L192.7 382.4 L193.4 382.2 L194.1 381.5 L194.8 382.0 L195.5 382.1 L196.2 382.3 L196.9 382.5 L197.6 382.7 L198.4 383.0 L199.1 383.1 L199.8 383.3 L200.5 382.7 L201.2 382.7 L201.9 382.9 L202.6 382.9 L203.3 382.4 L204.0 382.7 L204.8 383.1 L205.5 383.1 L206.2 382.0 L206.9 381.8 L207.6 381.8 L208.3 380.9 L209.0 380.9 L209.8 380.5 L210.5 380.9 L211.2 381.3 L211.9 380.5 L212.6 380.3 L213.3 379.9 L214.0 379.6 L214.7 379.6 L215.5 380.3 L216.2 380.4 L216.9 380.3 L217.6 380.6 L218.3 381.1 L219.0 381.3 L219.7 381.1 L220.4 380.1 L221.2 380.2 L221.9 380.1 L222.6 379.9 L223.3 380.5 L224.0 380.9 L224.7 380.3 L225.4 380.4 L226.1 380.6 L226.8 381.0 L227.6 380.7 L228.3 380.5 L229.0 380.0 L229.7 380.2 L230.4 379.4 L231.1 379.5 L231.8 379.9 L232.6 379.8 L233.3 379.7 L234.0 379.5 L234.7 379.0 L235.4 379.2 L236.1 379.9 L236.8 378.8 L237.5 378.2 L238.3 378.6 L239.0 379.1 L239.7 379.9 L240.4 379.6 L241.1 379.5 L241.8 379.5 L242.5 379.7 L243.2 380.2 L243.9 380.0 L244.7 380.4 L245.4 379.6 L246.1 379.7 L246.8 379.7 L247.5 379.7 L248.2 380.2 L248.9 379.8 L249.7 380.6 L250.4 380.4 L251.1 381.1 L251.8 380.7 L252.5 379.4 L253.2 380.0 L253.9 379.9 L254.6 379.7 L255.4 379.1 L256.1 379.6 L256.8 379.4 L257.5 379.8 L258.2 379.3 L258.9 379.4 L259.6 379.2 L260.3 378.9 L261.1 379.4 L261.8 378.7 L262.5 378.6 L263.2 378.4 L263.9 378.7 L264.6 379.1 L265.3 379.0 L266.0 378.5 L266.7 377.9 L267.5 377.6 L268.2 377.7 L268.9 377.4 L269.6 377.4 L270.3 376.7 L271.0 376.4 L271.7 377.3 L272.5 376.3 L273.2 376.5 L273.9 376.2 L274.6 375.7 L275.3 375.4 L276.0 374.8 L276.7 375.5 L277.4 374.9 L278.2 374.8 L278.9 375.0 L279.6 374.4 L280.3 374.5 L281.0 374.0 L281.7 373.6 L282.4 373.8 L283.1 374.0 L283.8 373.5 L284.6 372.8 L285.3 372.9 L286.0 372.7 L286.7 372.7 L287.4 372.4 L288.1 372.2 L288.8 371.9 L289.6 371.9 L290.3 372.6 L291.0 372.2 L291.8 372.6 L292.5 372.1 L293.3 372.5 L294.0 373.6 L294.8 374.4 L295.5 374.7 L296.3 375.5 L297.0 375.9 L297.8 376.0 L298.5 376.4 L299.3 376.8 L300.0 377.0 L300.8 377.7 L301.4 377.4 L302.1 378.0 L302.8 378.5 L303.5 377.6 L304.1 376.5 L304.8 376.6 L305.5 377.4 L306.1 376.9 L306.8 377.3 L307.5 377.4 L308.2 377.7 L309.0 377.8 L309.7 378.1 L310.5 378.7 L311.2 378.8 L312.0 379.0 L312.7 379.4 L313.5 379.4 L314.2 379.1 L315.0 379.1 L315.7 379.9 L316.5 380.9 L317.2 382.4 L318.0 383.7 L318.6 383.9 L319.3 385.6 L319.9 387.2 L320.6 387.5 L321.2 388.0 L321.8 387.1 L322.4 387.3 L323.1 386.5 L323.7 386.4 L324.3 386.7 L324.9 385.8 L325.6 385.2 L326.2 383.8 L326.9 384.1 L327.7 383.7 L328.4 383.2 L329.2 383.0 L329.9 382.8 L330.7 382.8 L331.4 381.9 L332.2 380.8 L332.9 380.5 L333.7 381.4 L334.4 382.0 L335.2 381.9 L335.9 381.7 L336.7 381.1 L337.4 380.8 L338.2 381.3 L338.9 381.6 L339.7 380.7 L340.4 381.0 L341.1 381.0 L341.9 380.6 L342.6 380.3 L343.4 380.8 L344.1 381.5 L344.9 382.9 L345.6 382.1 L346.4 381.6 L347.1 382.4 L347.9 382.1 L348.6 381.9 L349.4 382.4 L350.1 381.6 L350.9 381.9 L351.6 381.7 L352.4 380.9 L353.1 381.1 L353.9 381.7 L354.6 381.8 L355.4 381.7 L356.1 382.0 L356.9 381.9 L357.6 381.5 L358.4 381.6 L359.1 381.2 L359.9 380.7 L360.6 380.0 L361.3 379.3 L362.0 380.4 L362.7 381.3 L363.4 381.5 L364.1 381.2 L364.8 380.9 L365.6 380.7 L366.3 380.7 L367.0 380.0 L367.7 380.6 L368.4 380.9 L369.1 380.2 L369.8 379.8 L370.5 380.1 L371.3 380.2 L372.0 380.6 L372.7 380.0 L373.4 380.3 L374.1 380.3 L374.8 380.6 L375.5 380.7 L376.2 379.6 L376.9 379.3 L377.7 379.5 L378.4 379.5 L379.1 379.3 L379.8 378.9 L380.5 379.3 L381.2 379.3 L381.9 379.1 L382.7 379.0 L383.4 380.0 L384.1 379.3 L384.8 379.4 L385.5 379.6 L386.2 379.4 L386.9 380.4 L387.6 380.3 L388.4 380.4 L389.1 381.0 L389.8 380.1 L390.5 380.6 L391.2 380.5 L391.9 380.4 L392.6 379.4 L393.3 379.0 L394.0 378.8 L394.8 379.1 L395.5 379.4 L396.2 379.3 L396.9 378.6 L397.6 378.8 L398.3 379.0 L399.0 378.9 L399.8 378.9 L400.5 379.2 L401.2 379.6 L401.9 380.0 L402.6 379.2 L403.3 379.3 L404.0 379.1 L404.7 378.3 L405.5 378.4 L406.2 378.0 L407.0 378.9 L407.7 378.3 L408.4 379.2 L409.0 379.0 L409.7 379.8 L410.3 380.2 L411.0 379.7 L411.7 379.5 L412.5 379.7 L413.2 379.4 L414.0 379.7 L414.7 379.1 L415.5 378.2 L416.2 378.3 L417.0 378.2 L417.7 377.8 L418.4 377.9 L419.2 378.1 L419.9 377.3 L420.7 376.8 L421.4 376.7 L422.2 377.3 L422.8 377.8 L423.4 377.7 L424.1 378.3 L424.7 378.8 L425.3 378.9 L425.9 379.4 L426.6 379.7 L427.2 380.4 L427.8 379.3 L428.4 379.0 L429.1 378.0 L429.7 377.6 L430.4 377.4 L431.2 376.8 L431.9 375.2 L432.7 374.9 L433.4 374.7 L434.2 375.1 L434.9 374.6 L435.7 374.4 L436.4 373.8 L437.2 373.9 L437.9 373.4 L438.7 373.7 L439.4 374.5 L440.2 375.4 L440.9 374.5 L441.6 373.6 L442.4 374.0 L443.1 374.3 L443.9 375.1 L444.6 375.3 L445.4 375.4 L446.1 375.0 L446.9 374.5 L447.6 375.0 L448.4 374.7 L449.1 374.1 L449.9 373.6 L450.6 373.5 L451.4 373.2 L452.1 373.2 L452.9 374.1 L453.6 373.1 L454.4 372.7 L455.1 373.2 L455.9 373.1 L456.6 372.0 L457.4 371.4 L458.1 370.7 L458.9 370.7 L459.6 369.8 L460.3 369.9 L461.1 369.3 L461.8 369.6 L462.6 368.5 L463.3 368.6 L464.1 368.5 L464.8 368.8 L465.6 370.0 L466.3 369.9 L467.1 369.4 L467.7 368.8 L468.3 368.5 L469.0 367.6 L469.6 366.4 L470.3 366.4 L471.1 367.0 L471.8 366.5 L472.6 366.8 L473.3 367.6 L474.1 367.3 L474.8 366.6 L475.6 366.3 L476.3 366.0 L477.1 365.3 L477.7 363.9 L478.3 363.6 L478.9 362.3 L479.6 361.3 L480.0 361.9 L480.7 360.5 L481.3 358.6 L482.0 358.1 L482.7 357.1 L483.5 355.2 L484.2 354.2 L485.0 353.5 L485.7 353.3 L486.5 352.8 L487.2 352.3 L488.0 351.9 L488.7 351.8 L489.5 352.6 L490.2 353.1 L491.0 354.1 L491.7 354.1 L492.5 354.4 L493.2 354.6 L494.0 355.3 L494.7 355.8 L495.5 355.7 L496.2 355.7 L497.0 355.9 L497.7 356.8 L498.5 357.5 L499.2 357.9 L499.9 358.1 L500.7 357.9 L501.4 356.6 L502.2 355.2 L502.9 354.9 L503.7 354.1 L504.3 353.9 L504.9 352.8 L505.6 351.4 L506.2 350.7 L507.1 344.6 L507.9 339.5 L508.7 332.4 L509.4 324.7 L510.1 322.6 L510.7 320.6 L511.7 339.6 L512.3 345.4 L512.9 352.2 L513.6 350.1 L514.2 348.2 L514.9 347.4 L515.5 346.8 L516.2 346.9 L516.8 346.6 L517.4 347.2 L518.0 347.6 L518.7 347.4 L519.3 347.7 L519.9 348.3 L520.5 348.6 L521.1 349.8 L521.8 350.8 L522.4 352.5 L523.0 351.9 L523.6 351.3 L524.3 351.1 L524.9 350.6 L525.5 350.2 L526.1 349.5 L526.8 349.8 L527.4 349.2 L528.0 350.7 L528.6 350.8 L529.3 351.6 L529.9 353.7 L530.5 354.1 L531.1 356.9 L531.7 357.7 L532.4 359.6 L533.0 358.4 L533.6 357.8 L534.2 357.4 L534.9 357.4 L535.5 357.0 L536.1 355.3 L536.7 354.1 L537.4 353.2 L538.0 353.2 L538.6 353.0 L539.2 352.8 L539.9 351.6 L540.5 352.6 L541.1 352.8 L541.7 352.8 L542.3 353.3 L543.0 352.9 L543.6 352.9 L544.2 351.7 L544.8 350.6 L545.5 349.4 L546.1 348.8 L546.7 349.2 L547.3 349.1 L548.0 349.4 L548.6 350.6 L549.2 350.9 L549.8 350.8 L550.5 351.0 L551.1 351.0 L551.7 350.8 L552.3 351.6 L552.9 350.8 L553.6 350.6 L554.2 349.7 L554.8 349.7 L555.4 348.9 L556.1 348.7 L556.7 348.4 L557.3 347.8 L557.9 346.7 L558.6 346.3 L559.2 345.3 L559.8 344.6 L560.5 343.8 L561.3 344.2 L562.0 343.5 L562.8 343.1 L563.5 343.6 L564.3 343.7 L565.0 343.1 L565.8 342.8 L566.5 342.3 L567.3 342.0 L568.0 342.1 L568.8 341.7 L569.5 341.6 L570.3 342.1 L571.0 342.1 L571.6 341.5 L572.3 341.0 L572.9 341.0 L573.5 341.0 L574.1 340.1 L574.8 338.8 L575.4 337.7 L576.0 337.3 L576.6 335.0 L577.3 334.5 L577.9 334.4 L578.5 333.4 L579.1 332.1 L579.8 331.6 L580.4 330.3 L581.0 329.2 L581.6 329.4 L582.2 328.5 L582.9 327.2 L583.5 326.5 L584.1 326.7 L584.7 325.9 L585.4 325.6 L586.0 324.5 L586.6 324.4 L587.2 324.0 L587.9 323.6 L588.5 323.8 L589.1 322.9 L589.7 322.6 L590.3 322.2 L591.0 320.6 L591.6 320.9 L592.2 320.3 L592.8 319.6 L593.5 318.7 L594.1 318.2 L594.7 318.2 L595.3 318.0 L596.0 318.1 L596.6 319.5 L597.2 320.1 L597.8 319.6 L598.5 320.0 L599.1 319.1 L599.7 318.6 L600.3 318.3 L601.0 318.2 L601.6 317.7 L602.2 316.9 L602.8 316.5 L603.4 316.2 L604.1 317.4 L604.7 318.5 L605.3 319.8 L605.9 321.1 L606.6 321.8 L607.2 322.1 L607.8 323.5 L608.4 323.5 L609.3 325.2 L610.2 326.0 L610.8 323.9 L611.5 322.0 L612.2 320.6 L612.8 319.2 L613.4 317.9 L614.0 316.4 L614.7 316.0 L615.3 315.3 L615.9 313.6 L616.5 312.6 L617.2 312.0 L617.8 310.8 L618.4 309.7 L619.0 308.3 L619.6 307.3 L620.3 306.2 L620.9 305.4 L621.5 304.1 L622.1 303.0 L622.8 302.7 L623.4 302.1 L624.0 301.3 L624.6 301.3 L625.3 300.3 L626.0 298.9 L626.6 297.1 L627.5 295.9 L628.4 294.5 L629.2 296.8 L630.1 299.0 L630.8 301.7 L631.5 303.0 L632.1 304.7 L632.8 305.5 L633.4 307.6 L634.1 309.1 L635.0 308.0 L635.9 306.2 L636.5 306.0 L637.2 304.5 L637.9 303.1 L638.7 307.7 L639.6 312.7 L640.3 314.5 L640.9 316.7 L641.6 318.4 L642.5 320.0 L643.3 321.3 L644.0 320.0 L644.6 319.2 L645.2 318.7 L645.8 318.4 L646.5 317.1 L647.1 316.2 L647.7 314.5 L648.3 312.4 L649.0 310.3 L649.6 308.9 L650.2 307.2 L650.8 304.9 L651.7 300.3 L652.6 295.0 L653.2 292.6 L653.9 290.1 L654.6 288.0 L655.2 285.8 L655.9 283.2 L656.6 281.2 L657.4 279.6 L658.3 278.6" stroke="#fcbc2c" stroke-width="3.9"/>
<path d="M116.7 278.7 L117.4 278.2 L118.0 278.6 L118.7 277.5 L119.3 277.8 L120.0 278.1 L120.7 277.3 L121.5 276.6 L122.2 276.7 L123.0 275.7 L123.7 274.8 L124.5 273.2 L125.2 273.7 L126.0 273.7 L126.7 273.8 L127.5 274.0 L128.2 275.1 L129.0 275.0 L129.7 275.8 L130.5 274.9 L131.2 274.9 L131.9 275.1 L132.7 275.9 L133.4 275.6 L134.2 276.4 L134.9 276.7 L135.7 277.5 L136.4 277.0 L137.2 277.4 L137.9 277.2 L138.7 276.9 L139.4 276.9 L140.2 277.4 L140.9 277.7 L141.7 278.8 L142.4 278.5 L143.2 279.4 L143.9 279.3 L144.7 279.0 L145.4 280.6 L146.2 280.2 L146.8 281.0 L147.4 282.1 L148.0 281.8 L148.7 282.1 L149.3 281.1 L149.9 280.7 L150.5 280.4 L151.2 278.6 L151.9 278.2 L152.6 277.3 L153.4 278.3 L154.1 278.3 L154.9 278.2 L155.6 278.4 L156.4 279.5 L157.1 279.3 L157.9 279.7 L158.6 280.4 L159.4 279.4 L160.1 280.0 L160.9 279.9 L161.6 279.0 L162.4 279.0 L163.1 278.7 L163.9 278.7 L164.6 280.3 L165.4 280.9 L166.1 280.0 L166.9 280.3 L167.6 282.2 L168.4 283.4 L169.1 285.8 L169.8 286.5 L170.5 287.6 L171.1 288.7 L171.7 290.2 L172.3 290.6 L173.0 291.3 L173.6 292.5 L174.2 294.0 L174.8 295.2 L175.5 297.8 L176.2 298.6 L176.8 299.7 L177.7 296.5 L178.6 294.4 L179.2 294.9 L179.8 293.2 L180.4 292.2 L181.1 291.5 L181.7 290.3 L182.3 289.7 L182.9 287.8 L183.6 287.1 L184.2 283.9 L184.8 280.8 L185.4 282.2 L186.1 283.1 L186.7 284.0 L187.3 284.8 L187.9 285.9 L188.6 285.0 L189.2 284.8 L189.8 284.3 L190.4 282.8 L191.0 282.3 L191.7 281.1 L192.3 279.7 L192.9 278.6 L193.5 278.6 L194.2 277.2 L194.8 276.9 L195.4 277.4 L196.0 278.4 L196.7 279.0 L197.3 278.9 L197.9 279.5 L198.5 280.2 L199.2 281.2 L199.8 281.5 L200.4 282.0 L201.0 280.1 L201.6 281.0 L202.3 280.5 L202.9 279.9 L203.5 279.2 L204.1 278.2 L204.8 277.4 L205.4 278.1 L206.0 279.1 L206.6 278.9 L207.3 279.2 L207.9 279.4 L208.5 279.7 L209.1 280.6 L209.8 280.6 L210.4 281.2 L211.0 280.8 L211.6 282.6 L212.2 282.2 L212.9 282.9 L213.5 283.0 L214.1 283.4 L214.7 284.3 L215.4 286.2 L216.0 287.1 L216.6 287.2 L217.2 288.4 L217.9 287.3 L218.5 286.2 L219.1 286.2 L219.7 285.4 L220.4 284.8 L221.0 285.8 L221.6 286.1 L222.2 287.1 L222.8 287.3 L223.5 286.6 L224.1 286.3 L224.7 287.2 L225.3 287.8 L226.0 287.4 L226.6 286.4 L227.2 286.7 L227.8 285.5 L228.5 286.0 L229.1 286.3 L229.7 287.0 L230.3 286.5 L230.9 286.6 L231.6 286.8 L232.2 289.0 L232.8 287.9 L233.4 285.3 L234.1 284.3 L234.7 282.8 L235.3 281.6 L235.9 280.4 L236.6 279.7 L237.2 278.6 L237.8 279.7 L238.4 280.3 L239.1 280.3 L239.7 279.9 L240.3 279.3 L240.9 277.6 L241.5 276.9 L242.2 277.6 L242.8 275.9 L243.4 275.1 L244.0 275.8 L244.7 274.6 L245.4 274.9 L246.2 272.8 L246.9 271.8 L247.7 271.3 L248.4 271.0 L249.1 271.6 L249.9 272.7 L250.6 272.3 L251.4 272.4 L252.1 271.2 L252.9 272.0 L253.6 272.4 L254.4 273.0 L255.1 273.5 L255.9 274.1 L256.6 275.0 L257.4 274.6 L258.1 274.3 L258.9 274.1 L259.6 273.3 L260.4 273.9 L261.1 275.7 L261.9 275.8 L262.6 276.6 L263.4 277.4 L264.1 277.3 L264.9 278.1 L265.6 278.0 L266.4 278.1 L267.1 278.5 L267.9 279.2 L268.6 280.0 L269.4 280.6 L270.1 280.9 L270.9 281.7 L271.5 282.1 L272.1 282.6 L272.7 283.2 L273.3 283.2 L274.0 283.3 L274.6 282.4 L275.2 281.3 L275.8 280.9 L276.5 280.2 L277.1 281.0 L277.7 278.5 L278.3 276.9 L279.0 276.3 L279.6 275.9 L280.2 275.5 L280.8 274.1 L281.6 274.0 L282.3 273.1 L283.1 271.8 L283.8 271.8 L284.6 272.0 L285.3 272.4 L286.1 271.7 L286.8 271.4 L287.6 271.4 L288.3 271.5 L289.0 271.3 L289.8 272.2 L290.5 271.7 L291.3 271.8 L292.0 272.7 L292.8 273.5 L293.5 273.4 L294.3 275.2 L295.0 275.7 L295.8 276.6 L296.4 277.6 L297.0 277.9 L297.7 278.8 L298.3 279.4 L298.9 280.2 L299.5 280.7 L300.1 281.3 L300.8 280.5 L301.4 281.0 L302.0 280.3 L302.6 279.7 L303.3 280.0 L304.0 279.2 L304.7 279.7 L305.4 279.8 L306.1 279.9 L306.8 281.0 L307.5 280.5 L308.2 280.0 L309.0 281.5 L309.7 280.7 L310.5 280.9 L311.2 280.9 L311.8 280.2 L312.5 280.0 L313.1 278.4 L313.7 279.5 L314.3 280.6 L315.0 281.6 L315.6 283.8 L316.2 284.8 L316.8 285.6 L317.5 287.6 L318.1 289.4 L318.7 290.3 L319.3 289.5 L319.9 291.2 L320.6 292.1 L321.2 293.7 L321.8 292.2 L322.4 288.3 L323.1 284.9 L323.7 281.7 L324.3 281.3 L324.9 280.9 L325.6 280.5 L326.2 278.3 L326.8 281.1 L327.4 283.0 L328.1 284.9 L328.7 288.2 L329.3 288.8 L329.9 288.4 L330.5 287.9 L331.2 287.5 L331.8 287.4 L332.4 287.8 L333.0 287.8 L333.7 288.8 L334.3 289.5 L334.9 289.9 L335.5 290.9 L336.2 291.1 L336.9 290.7 L337.7 290.9 L338.4 291.2 L339.2 291.3 L339.9 290.9 L340.6 289.7 L341.4 290.7 L342.1 289.9 L342.9 290.5 L343.6 290.0 L344.4 290.4 L345.1 291.3 L345.9 290.5 L346.6 290.4 L347.4 291.1 L348.1 290.1 L348.9 290.4 L349.6 291.9 L350.4 291.8 L351.1 291.0 L351.7 289.7 L352.4 288.8 L353.0 287.2 L353.6 287.9 L354.4 286.9 L355.1 287.0 L355.9 284.9 L356.6 284.7 L357.4 284.4 L358.1 283.8 L358.9 284.2 L359.6 283.7 L360.4 285.0 L361.1 283.1 L361.8 283.7 L362.6 285.0 L363.3 284.9 L364.1 284.1 L364.8 284.2 L365.6 283.6 L366.3 282.7 L367.1 283.7 L367.8 282.8 L368.6 282.0 L369.3 281.2 L370.1 280.8 L370.8 280.2 L371.6 279.4 L372.3 279.3 L373.1 280.4 L373.8 281.4 L374.6 282.8 L375.3 282.5 L376.1 281.1 L376.8 280.2 L377.6 280.7 L378.3 279.5 L379.1 278.5 L379.8 278.0 L380.5 277.7 L381.3 277.4 L382.0 277.9 L382.8 278.6 L383.5 279.6 L384.2 281.3 L384.8 282.6 L385.4 283.0 L386.0 284.5 L386.9 284.7 L387.8 285.5 L388.4 284.7 L389.1 283.1 L389.8 281.4 L390.4 280.9 L391.0 278.7 L391.6 279.1 L392.3 277.9 L392.9 277.6 L393.5 277.0 L394.1 276.1 L394.8 275.5 L395.4 274.0 L396.0 272.0 L396.6 271.2 L397.3 271.4 L397.9 270.6 L398.5 268.2 L399.1 267.9 L399.8 266.2 L400.4 266.3 L401.0 264.0 L401.6 263.6 L402.2 262.1 L402.9 260.3 L403.5 258.0 L404.1 256.1 L404.7 255.8 L405.4 255.5 L406.0 254.8 L406.6 254.5 L407.2 253.3 L407.9 253.9 L408.5 254.7 L409.1 255.6 L409.7 257.5 L410.4 257.2 L411.0 258.6 L411.6 259.6 L412.2 259.7 L412.8 258.4 L413.5 257.7 L414.1 256.4 L414.7 255.7 L415.3 254.2 L416.0 252.0 L416.6 250.8 L417.2 250.5 L417.8 250.4 L418.5 250.6 L419.1 249.7 L419.7 249.2 L420.3 248.1 L420.9 246.7 L421.6 246.2 L422.2 245.9 L422.8 245.1 L423.4 244.3 L424.1 244.2 L424.7 244.8 L425.3 245.5 L425.9 245.6 L426.6 245.9 L427.2 246.8 L427.8 245.3 L428.4 244.8 L429.1 244.0 L429.7 242.5 L430.3 241.2 L430.9 238.5 L431.5 236.8 L432.2 235.6 L432.8 234.7 L433.4 233.2 L434.0 232.6 L434.7 229.9 L435.3 228.2 L435.9 226.9 L436.5 227.2 L437.2 226.2 L437.8 226.5 L438.4 227.1 L439.0 227.5 L439.6 228.1 L440.3 228.0 L440.9 228.3 L441.5 228.7 L442.1 229.3 L442.8 229.4 L443.4 230.0 L444.0 229.2 L444.6 229.6 L445.3 228.1 L445.9 227.4 L446.5 226.0 L447.1 223.2 L447.5 223.8 L448.2 221.3 L448.8 218.6 L449.5 215.6 L450.2 213.7 L450.8 210.6 L451.5 208.1 L452.2 206.8 L452.8 204.9 L453.5 202.8 L454.2 201.0 L454.8 199.0 L455.4 197.2 L456.0 195.1 L456.7 192.7 L457.3 189.5 L457.9 187.7 L458.5 185.9 L459.2 183.2 L459.8 180.9 L460.4 179.2 L461.0 177.0 L461.7 175.6 L462.3 178.4 L463.0 183.0 L463.7 185.8 L464.5 191.0 L465.3 197.9 L466.1 194.7 L466.8 192.8 L467.5 188.9 L468.1 188.0 L468.8 187.1 L469.4 186.5 L470.0 187.1 L470.7 185.9 L471.3 184.4 L472.0 184.1 L472.7 183.4 L473.3 182.0 L474.0 182.9 L474.6 184.2 L475.2 185.8 L475.8 187.4 L476.5 186.3 L477.1 185.2 L477.7 184.2 L478.3 184.0 L479.0 183.7 L479.6 181.9 L480.2 180.5 L480.8 178.0 L481.5 178.8 L482.1 180.0 L482.7 180.0 L483.3 180.8 L484.0 179.2 L484.6 176.9 L485.2 175.8 L485.8 173.6 L486.5 175.4 L487.1 176.1 L487.7 178.3 L488.3 179.7 L489.0 180.1 L489.6 179.6 L490.2 179.4 L490.8 179.6 L491.5 178.9 L492.1 177.9 L492.7 175.5 L493.3 175.1 L494.0 175.3 L494.6 176.2 L495.2 177.7 L495.8 177.8 L496.4 182.4 L497.0 187.5 L497.7 181.7 L498.3 175.7 L499.0 176.8 L499.6 178.0 L500.2 180.0 L500.8 180.5 L501.7 182.6 L502.5 183.7 L503.2 177.0 L503.8 176.5 L504.5 174.4 L505.1 171.9 L505.7 168.0 L506.4 165.1 L507.0 159.1 L507.6 154.7 L508.2 150.4 L508.9 150.1 L509.5 149.8 L510.1 149.6 L510.7 150.1 L511.4 151.4 L512.1 150.4 L512.9 147.3 L513.9 140.4 L514.5 139.2 L515.1 137.7 L515.8 135.2 L516.4 130.4 L517.4 136.1 L518.3 141.9 L518.9 145.3 L519.5 146.5 L520.4 153.9 L521.2 156.2 L522.0 158.5 L522.7 160.3 L523.3 161.4 L523.9 158.1 L524.5 155.7 L525.2 154.6 L525.8 153.1 L526.4 150.0 L527.0 146.6 L527.7 147.0 L528.3 147.7 L528.9 147.2 L529.6 149.0 L530.2 152.5 L530.8 156.7 L531.4 160.3 L532.0 165.3 L532.5 170.1 L533.3 182.4 L534.2 193.8 L535.0 189.6 L535.8 182.9 L536.7 189.6 L537.5 194.3 L538.3 183.5 L539.2 171.2 L540.0 178.3 L540.8 185.2 L541.7 182.7 L542.5 179.8 L543.3 178.0 L544.2 176.1 L545.0 173.8 L545.8 169.5 L546.7 171.2 L547.5 173.1 L548.3 175.8 L549.2 178.4 L549.8 178.0 L550.4 179.1 L551.0 179.1 L551.6 180.4 L552.3 181.4 L552.9 181.3 L553.6 180.7 L554.2 180.6 L554.8 179.3 L555.4 178.2 L556.1 175.9 L556.7 174.8 L557.3 174.9 L557.9 174.1 L558.5 172.4 L559.4 176.5 L560.3 180.7 L561.0 183.7 L561.6 185.1 L562.3 187.7 L563.0 190.1 L563.6 193.0 L564.3 194.9 L565.2 192.9 L566.0 190.3 L566.9 195.0 L567.8 201.4 L568.4 202.4 L569.1 203.7 L569.8 203.7 L570.4 203.9 L571.0 206.2 L571.6 205.7 L572.3 206.5 L572.9 206.4 L573.5 206.0 L574.1 205.1 L574.8 205.3 L575.4 205.3 L576.0 206.5 L576.6 208.2 L577.3 209.0 L577.9 207.6 L578.5 205.8 L579.1 204.7 L579.8 203.6 L580.4 205.2 L581.0 206.5 L581.6 208.1 L582.2 209.8 L582.9 209.0 L583.5 209.8 L584.1 211.0 L584.7 212.1 L585.5 214.2 L586.2 215.8 L587.0 217.4 L587.7 219.4 L588.4 219.3 L589.0 217.6 L589.7 216.9 L590.3 215.2 L591.0 214.2 L591.6 213.5 L592.2 214.4 L592.8 214.6 L593.5 214.9 L594.1 214.7 L594.7 214.3 L595.3 213.1 L596.0 212.2 L596.6 213.5 L597.2 215.0 L597.8 215.8 L598.5 218.5 L599.3 221.6 L600.2 225.1 L600.9 222.9 L601.5 220.6 L602.2 219.6 L602.8 215.9 L603.4 213.8 L604.1 209.2 L604.7 205.7 L605.3 205.9 L605.9 207.2 L606.6 205.7 L607.2 206.5 L607.8 208.7 L608.4 211.0 L609.1 214.2 L609.7 216.3 L610.3 213.6 L610.9 212.1 L611.5 211.5 L612.2 209.7 L612.8 210.1 L613.4 211.0 L614.0 210.8 L614.7 210.3 L615.3 209.4 L615.9 207.9 L616.5 207.2 L617.2 205.5 L617.8 203.8 L618.4 201.9 L619.0 200.6 L619.6 200.0 L620.3 198.1 L620.9 195.0 L621.5 194.3 L622.1 193.2 L622.8 191.5 L623.4 190.8 L624.0 187.7 L624.6 187.4 L625.3 189.0 L625.9 189.6 L626.5 191.7 L627.1 191.9 L627.8 189.1 L628.4 187.3 L629.0 184.2 L629.6 182.6 L630.3 184.9 L630.9 186.3 L631.5 188.4 L632.1 189.7 L632.7 188.8 L633.4 187.3 L634.0 185.6 L634.6 185.4 L635.3 181.1 L635.9 175.1 L636.6 170.3 L637.5 164.6 L638.4 158.9 L639.0 156.1 L639.6 154.6 L640.2 152.2 L640.9 149.7 L641.5 149.1 L642.1 147.7 L642.7 145.9 L643.3 144.8 L644.2 147.7 L645.1 151.9 L645.8 148.2 L646.4 145.5 L647.1 142.5 L647.7 138.3 L648.4 135.7 L649.1 132.1 L650.0 128.9 L650.8 125.5 L651.7 123.8 L652.6 121.9 L653.2 122.0 L653.9 122.0 L654.6 124.6 L655.2 124.1 L655.9 123.8 L656.6 123.5 L657.2 123.9 L657.9 125.5 L658.5 126.2" stroke="#4fb848" stroke-width="3.9"/>
<path d="M116.7 291.9 L117.4 291.0 L118.1 290.0 L118.7 289.2 L119.4 288.7 L120.0 288.6 L120.6 288.0 L121.2 287.3 L121.8 287.5 L122.5 287.1 L123.1 285.9 L123.7 285.1 L124.6 284.5 L125.5 284.6 L126.2 287.4 L127.0 291.9 L127.8 291.4 L128.7 289.8 L129.3 290.3 L129.9 289.7 L130.6 291.1 L131.2 291.9 L131.8 293.1 L132.4 293.4 L133.1 294.4 L133.7 294.8 L134.3 294.8 L134.9 295.5 L135.6 295.8 L136.2 296.9 L136.8 297.2 L137.4 298.0 L138.1 298.6 L138.7 299.2 L139.3 298.7 L139.9 299.2 L140.5 299.3 L141.2 299.3 L141.8 298.8 L142.4 298.7 L143.0 297.6 L143.7 299.0 L144.3 297.6 L144.9 297.1 L145.5 297.4 L146.2 297.1 L146.8 297.4 L147.4 296.9 L148.0 297.3 L148.7 297.5 L149.3 297.3 L149.9 296.3 L150.5 294.8 L151.2 293.6 L151.8 294.3 L152.4 294.1 L153.0 293.3 L153.6 293.3 L154.3 294.3 L154.9 294.7 L155.5 294.4 L156.1 295.6 L156.8 296.5 L157.4 297.4 L158.0 298.5 L158.6 299.2 L159.3 299.8 L159.9 300.6 L160.5 301.3 L161.1 302.0 L161.7 303.0 L162.4 303.7 L163.0 305.4 L163.6 306.0 L164.2 305.3 L164.9 304.4 L165.5 304.4 L166.1 305.1 L166.9 304.8 L167.6 304.7 L168.4 305.2 L169.1 304.9 L169.8 304.1 L170.5 304.3 L171.1 305.3 L171.7 305.8 L172.3 304.8 L173.1 305.2 L173.8 306.0 L174.6 305.9 L175.3 307.4 L176.1 308.0 L176.7 307.3 L177.3 307.2 L178.0 307.3 L178.6 306.4 L179.2 305.4 L179.8 303.9 L180.4 304.6 L181.1 305.3 L181.7 304.6 L182.3 304.5 L182.9 303.8 L183.6 303.2 L184.2 302.7 L184.8 303.3 L185.4 303.5 L186.1 302.2 L186.7 301.1 L187.3 299.8 L187.9 300.4 L188.6 299.4 L189.2 300.0 L189.8 300.3 L190.4 300.0 L191.1 300.2 L191.7 300.0 L192.3 298.3 L192.9 299.0 L193.5 299.0 L194.2 299.3 L194.8 298.9 L195.4 299.6 L196.0 299.6 L196.8 299.1 L197.5 299.9 L198.3 299.1 L199.0 299.9 L199.8 299.0 L200.5 299.7 L201.3 300.0 L202.0 299.8 L202.8 301.0 L203.5 301.1 L204.3 300.9 L205.0 300.8 L205.8 301.5 L206.5 302.2 L207.3 302.6 L208.0 302.6 L208.8 303.2 L209.5 303.8 L210.3 304.5 L211.0 305.0 L211.6 304.9 L212.2 305.1 L212.9 303.9 L213.5 303.0 L214.1 301.2 L214.7 301.4 L215.4 300.1 L216.0 299.6 L216.6 299.6 L217.2 298.0 L217.9 297.1 L218.5 295.8 L219.1 294.4 L219.7 294.7 L220.3 293.9 L221.0 291.6 L221.6 291.9 L222.2 291.7 L222.8 292.3 L223.5 291.8 L224.2 291.5 L225.0 292.6 L225.7 292.1 L226.5 291.7 L227.2 292.2 L228.0 291.9 L228.7 293.5 L229.5 293.2 L230.2 293.6 L230.9 293.7 L231.7 294.8 L232.4 295.7 L233.2 296.4 L233.9 296.8 L234.7 298.7 L235.3 298.3 L235.9 297.4 L236.6 298.2 L237.2 297.3 L237.8 296.8 L238.4 296.7 L239.1 294.6 L239.7 294.0 L240.4 293.6 L241.2 292.4 L241.9 292.0 L242.7 290.9 L243.4 290.3 L244.1 288.5 L244.7 288.4 L245.4 288.1 L246.0 287.5 L246.7 287.5 L247.4 288.3 L248.2 288.2 L248.9 288.3 L249.7 288.3 L250.4 288.7 L251.1 289.0 L251.9 289.3 L252.6 291.0 L253.4 290.8 L254.1 291.2 L254.9 290.5 L255.6 290.8 L256.4 291.8 L257.1 292.0 L257.8 292.9 L258.4 293.7 L259.0 295.2 L259.6 296.7 L260.3 296.7 L261.0 298.2 L261.6 299.4 L262.5 297.4 L263.4 293.8 L264.1 293.9 L264.9 294.6 L265.6 293.7 L266.4 293.3 L267.1 294.3 L267.9 293.7 L268.6 293.4 L269.4 292.7 L270.1 292.6 L270.9 292.8 L271.5 292.9 L272.1 292.2 L272.7 293.3 L273.3 292.7 L274.0 291.8 L274.6 290.5 L275.2 289.3 L275.8 288.5 L276.5 287.8 L277.1 286.4 L277.7 285.5 L278.3 285.4 L279.1 285.0 L279.8 285.3 L280.6 285.3 L281.3 285.4 L282.1 285.4 L282.7 285.5 L283.3 284.7 L283.9 283.8 L284.6 283.7 L285.2 284.1 L285.8 285.1 L286.4 286.7 L287.1 288.6 L287.7 289.7 L288.3 291.1 L288.9 293.4 L289.6 293.8 L290.2 293.6 L290.8 293.0 L291.4 293.0 L292.0 292.8 L292.7 291.5 L293.3 289.8 L293.9 288.4 L294.5 287.5 L295.2 286.6 L295.8 284.9 L296.4 285.1 L297.0 283.3 L297.7 283.2 L298.4 283.9 L299.0 282.1 L299.9 284.5 L300.8 289.0 L301.4 290.9 L302.0 292.1 L302.6 294.3 L303.3 294.9 L304.0 295.3 L304.7 296.2 L305.4 297.1 L306.1 297.7 L306.8 297.7 L307.5 298.2 L308.2 299.3 L309.0 299.1 L309.7 299.3 L310.5 299.8 L311.1 299.1 L311.7 297.3 L312.3 296.6 L313.0 295.5 L313.6 294.8 L314.2 294.3 L314.8 293.3 L315.5 293.5 L316.1 291.9 L316.7 290.9 L317.3 289.8 L318.0 289.4 L318.6 289.2 L319.2 290.8 L319.8 291.1 L320.4 290.6 L321.1 289.0 L321.7 287.7 L322.3 286.8 L322.9 285.6 L323.6 285.0 L324.3 283.6 L324.9 282.8 L325.6 281.3 L326.2 282.0 L326.8 281.2 L327.4 281.9 L328.1 281.3 L328.7 279.9 L329.3 281.2 L329.9 280.0 L330.6 280.7 L331.2 282.0 L331.8 282.0 L332.4 281.6 L333.2 281.9 L333.9 281.8 L334.7 281.2 L335.4 281.6 L336.2 281.1 L336.8 280.1 L337.4 279.8 L338.0 279.6 L338.6 279.0 L339.3 281.1 L339.9 281.2 L340.5 281.0 L341.1 281.8 L341.9 281.4 L342.6 281.8 L343.4 282.5 L344.1 282.8 L344.9 282.7 L345.6 282.6 L346.4 283.0 L347.1 282.6 L347.9 282.5 L348.6 282.7 L349.3 282.8 L349.9 282.0 L350.5 282.8 L351.1 283.0 L351.7 283.1 L352.4 284.2 L353.0 285.7 L353.6 287.3 L354.5 288.8 L355.4 290.5 L356.0 290.9 L356.7 289.8 L357.3 290.5 L358.0 290.1 L358.6 289.6 L359.3 289.5 L360.1 289.1 L360.8 288.2 L361.6 288.7 L362.3 288.2 L363.1 287.7 L363.8 288.0 L364.6 288.4 L365.3 287.1 L366.1 286.0 L366.8 285.9 L367.6 285.2 L368.3 285.2 L369.1 285.5 L369.8 284.9 L370.5 284.3 L371.1 284.7 L371.7 282.9 L372.3 282.5 L372.9 282.5 L373.6 281.5 L374.2 282.4 L374.8 282.2 L375.6 282.3 L376.3 282.0 L377.1 281.3 L377.8 281.8 L378.4 282.2 L379.1 281.7 L379.7 280.8 L380.3 280.4 L380.9 279.2 L381.5 278.0 L382.2 276.0 L382.8 273.8 L383.4 273.6 L384.0 272.8 L384.7 270.4 L385.3 268.9 L385.9 269.1 L386.5 268.9 L387.2 268.6 L387.8 267.5 L388.4 266.6 L389.1 267.0 L389.7 268.0 L390.4 267.6 L391.0 266.6 L391.8 267.3 L392.5 267.6 L393.3 267.2 L394.0 267.3 L394.8 266.3 L395.4 265.8 L396.0 265.5 L396.6 265.4 L397.3 264.0 L397.9 262.4 L398.5 261.2 L399.1 258.7 L399.8 258.6 L400.4 255.5 L401.0 254.8 L401.6 253.8 L402.2 253.0 L402.9 251.3 L403.5 249.8 L404.1 247.0 L404.7 244.2 L405.4 243.5 L406.0 242.7 L406.6 242.9 L407.2 242.5 L407.9 242.0 L408.5 242.0 L409.1 242.2 L409.7 242.6 L410.4 244.4 L411.0 244.8 L411.6 246.8 L412.2 246.6 L412.9 247.9 L413.5 249.2 L414.2 251.5 L414.8 249.0 L415.5 246.7 L416.1 244.3 L416.7 240.8 L417.3 241.3 L418.0 240.8 L418.6 240.3 L419.2 240.0 L419.9 238.9 L420.7 238.7 L421.4 237.9 L422.2 236.2 L422.8 236.0 L423.4 235.4 L424.1 235.2 L424.7 234.6 L425.3 234.2 L425.9 233.2 L426.6 232.0 L427.2 231.0 L427.8 230.2 L428.4 230.3 L429.1 230.8 L429.7 229.0 L430.3 229.1 L430.9 228.3 L431.5 227.2 L432.2 226.3 L432.8 224.3 L433.4 224.6 L434.0 223.6 L434.7 222.9 L435.3 222.1 L435.9 222.1 L436.5 222.0 L437.2 223.4 L437.8 223.0 L438.4 223.1 L439.0 222.9 L439.6 223.6 L440.3 223.4 L440.9 220.9 L441.5 219.7 L442.1 218.8 L442.8 220.1 L443.5 220.2 L444.1 222.4 L444.8 222.7 L445.4 224.1 L446.0 225.6 L446.6 226.1 L447.3 226.0 L447.9 226.9 L448.5 227.7 L449.1 228.4 L449.9 228.3 L450.6 226.8 L451.4 226.6 L452.1 226.0 L452.7 226.0 L453.4 224.9 L454.0 224.2 L454.6 223.6 L455.2 220.4 L455.9 219.3 L456.5 217.7 L457.1 216.6 L457.7 215.3 L458.4 213.9 L459.0 212.0 L459.6 209.7 L460.2 209.2 L460.8 208.0 L461.5 207.0 L462.1 206.0 L462.7 205.6 L463.3 205.1 L464.0 205.7 L464.6 206.8 L465.3 209.6 L465.9 214.3 L466.6 217.5 L467.5 212.5 L468.3 207.6 L469.0 206.3 L469.6 205.4 L470.2 204.1 L470.8 203.2 L471.4 205.1 L472.1 207.2 L472.7 210.1 L473.3 211.1 L473.9 213.0 L474.6 214.7 L475.2 217.5 L475.8 218.0 L476.4 215.4 L477.1 214.8 L477.7 212.9 L478.3 211.7 L479.1 210.5 L480.0 209.5 L480.6 206.2 L481.2 204.4 L481.9 202.2 L482.5 199.9 L483.1 198.6 L483.7 196.9 L484.4 195.9 L485.0 195.3 L485.7 192.2 L486.3 190.9 L487.0 190.3 L487.9 192.4 L488.7 195.6 L489.6 199.5 L490.5 203.3 L491.1 203.1 L491.8 204.7 L492.5 204.4 L493.1 208.3 L493.8 211.9 L494.5 214.5 L495.1 215.3 L495.7 216.6 L496.3 218.9 L497.0 219.7 L497.6 219.5 L498.2 219.5 L498.8 220.7 L499.4 221.1 L500.1 223.7 L500.7 226.1 L501.3 229.1 L501.9 230.5 L502.6 231.7 L503.3 232.7 L503.9 234.8 L504.7 232.7 L505.4 230.4 L506.2 228.1 L506.8 225.9 L507.4 223.2 L508.1 222.1 L508.7 219.5 L509.3 218.9 L509.9 217.7 L510.5 218.1 L511.2 214.8 L511.8 216.0 L512.4 214.9 L513.0 213.6 L513.7 212.7 L514.3 213.8 L514.9 214.9 L515.5 216.9 L516.2 218.3 L516.8 218.3 L517.4 217.1 L518.0 216.0 L518.6 214.7 L519.3 215.1 L519.9 216.5 L520.5 217.5 L521.1 217.6 L521.8 218.8 L522.4 218.8 L523.0 219.7 L523.6 220.1 L524.3 220.2 L524.9 220.3 L525.5 220.0 L526.1 219.6 L526.8 221.6 L527.4 222.6 L528.0 222.8 L528.6 224.4 L529.3 225.9 L529.9 227.4 L530.5 229.2 L531.1 231.2 L531.7 232.4 L532.4 233.2 L533.0 233.9 L533.6 234.2 L534.2 234.3 L534.9 234.5 L535.5 234.7 L536.1 236.3 L536.7 234.1 L537.4 231.2 L538.0 228.2 L538.6 225.4 L539.2 225.8 L539.9 224.5 L540.5 224.5 L541.1 224.1 L541.7 225.1 L542.3 226.0 L543.0 227.0 L543.6 227.3 L544.2 225.9 L544.8 223.9 L545.5 221.6 L546.1 218.6 L546.7 218.4 L547.3 217.4 L548.0 218.0 L548.6 216.9 L549.2 215.5 L549.8 215.0 L550.4 213.7 L551.1 214.4 L551.7 213.1 L552.3 211.4 L552.9 210.7 L553.6 209.0 L554.2 209.2 L554.8 210.5 L555.4 211.2 L556.1 211.9 L556.7 208.9 L557.3 207.4 L557.9 206.6 L558.5 204.9 L559.2 202.9 L559.8 202.1 L560.4 200.6 L561.0 199.2 L561.7 198.3 L562.3 197.5 L562.9 195.6 L563.5 194.5 L564.2 196.2 L564.8 196.2 L565.4 198.1 L566.0 198.2 L566.7 198.2 L567.3 198.9 L567.9 200.6 L568.5 202.2 L569.2 202.2 L569.8 201.2 L570.4 201.7 L571.0 201.1 L571.6 202.9 L572.3 205.3 L572.9 207.7 L573.5 209.5 L574.1 207.2 L574.8 204.6 L575.4 201.6 L576.0 200.4 L576.6 200.7 L577.3 199.9 L577.9 198.0 L578.5 198.9 L579.1 197.9 L579.8 196.3 L580.4 196.9 L581.0 194.9 L581.9 189.2 L582.7 184.1 L583.4 182.3 L584.1 181.0 L584.7 179.8 L585.4 182.1 L586.1 183.4 L586.7 184.6 L587.6 180.7 L588.5 177.1 L589.1 175.7 L589.7 173.5 L590.3 171.6 L591.0 171.6 L591.6 172.5 L592.2 173.4 L592.8 174.8 L593.5 176.7 L594.1 176.9 L594.7 174.9 L595.3 174.8 L596.0 174.4 L596.6 174.0 L597.2 174.7 L597.8 174.2 L598.5 174.6 L599.1 175.0 L599.7 176.0 L600.3 176.3 L601.0 178.3 L601.6 178.0 L602.2 177.1 L602.8 177.2 L603.4 177.3 L604.1 176.0 L604.7 174.5 L605.3 173.3 L605.9 172.7 L606.6 170.4 L607.2 167.9 L607.8 165.5 L608.4 163.3 L609.1 163.9 L609.7 165.1 L610.3 166.8 L610.9 167.3 L611.5 166.1 L612.2 165.2 L612.8 164.5 L613.4 163.4 L614.0 162.8 L614.7 163.3 L615.3 162.9 L615.9 163.6 L616.5 162.7 L617.2 161.8 L617.8 160.3 L618.4 159.1 L619.0 159.8 L619.6 158.7 L620.3 157.5 L620.9 157.3 L621.5 159.1 L622.1 159.6 L622.8 161.0 L623.4 162.1 L624.0 161.6 L624.6 161.8 L625.3 160.8 L625.9 159.5 L626.5 159.9 L627.1 160.3 L627.8 161.4 L628.4 161.5 L629.2 167.7 L630.1 171.7 L630.9 178.3 L631.6 185.0 L632.5 175.8 L633.4 167.3 L634.0 167.1 L634.6 167.4 L635.2 167.7 L635.9 167.5 L636.7 171.7 L637.6 175.7 L638.3 180.0 L638.9 184.0 L639.6 187.8 L640.3 190.6 L640.9 193.7 L641.6 195.8 L642.5 197.3 L643.3 198.9 L644.0 200.3 L644.6 200.5 L645.2 201.9 L645.8 203.6 L646.5 201.5 L647.1 200.9 L647.7 199.7 L648.3 198.3 L649.0 195.0 L649.6 192.1 L650.2 189.8 L650.8 186.0 L651.7 178.7 L652.6 172.4 L653.3 160.2 L654.1 147.7 L654.8 138.7 L655.6 128.7 L656.6 141.0 L657.6 149.3 L658.3 151.5 L659.0 152.4" stroke="#000000" stroke-width="3.9"/>
</g>
<line x1="59" y1="458.8" x2="90.3" y2="458.8" stroke="#0ba4e0" stroke-width="4" stroke-linecap="round"/>
<text x="100.5" y="464.8" font-family="'Liberation Sans', sans-serif" font-size="15.3" fill="#5e5f61" textLength="45.9" lengthAdjust="spacingAndGlyphs">Wheat</text>
<line x1="168.2" y1="458.8" x2="199.5" y2="458.8" stroke="#b46fb4" stroke-width="4" stroke-linecap="round"/>
<text x="208.7" y="464.8" font-family="'Liberation Sans', sans-serif" font-size="15.3" fill="#5e5f61" textLength="33.2" lengthAdjust="spacingAndGlyphs">Corn</text>
<line x1="263.8" y1="458.8" x2="295.1" y2="458.8" stroke="#85878a" stroke-width="4" stroke-linecap="round"/>
<text x="304.8" y="464.8" font-family="'Liberation Sans', sans-serif" font-size="15.3" fill="#5e5f61" textLength="24.9" lengthAdjust="spacingAndGlyphs">Oat</text>
<line x1="352" y1="458.8" x2="383.3" y2="458.8" stroke="#fcbc2c" stroke-width="4" stroke-linecap="round"/>
<text x="392.5" y="464.8" font-family="'Liberation Sans', sans-serif" font-size="15.3" fill="#5e5f61" textLength="68.3" lengthAdjust="spacingAndGlyphs">Rapeseed</text>
<line x1="483.2" y1="458.8" x2="514.5" y2="458.8" stroke="#4fb848" stroke-width="4" stroke-linecap="round"/>
<text x="524.3" y="464.8" font-family="'Liberation Sans', sans-serif" font-size="15.3" fill="#5e5f61" textLength="60.2" lengthAdjust="spacingAndGlyphs">Soybean</text>
<line x1="606.5" y1="458.8" x2="637.8" y2="458.8" stroke="#000000" stroke-width="4" stroke-linecap="round"/>
<text x="647.7" y="464.8" font-family="'Liberation Sans', sans-serif" font-size="15.3" fill="#5e5f61" textLength="68.5" lengthAdjust="spacingAndGlyphs">Sunflower</text>
<g font-family="'Liberation Sans', sans-serif" font-size="14.7" fill="#77787b">
<text x="16.3" y="519.2" textLength="220" lengthAdjust="spacingAndGlyphs">Source: Bloomberg; RSM Canada</text>
<text x="452" y="519.2" textLength="318.3" lengthAdjust="spacingAndGlyphs">*Left axis: wheat, corn, oat, rapeseed, soybean;</text>
<text x="630" y="536.8" textLength="140.3" lengthAdjust="spacingAndGlyphs">Right axis: sunflower</text>
</g>
</svg>
</body></html>
